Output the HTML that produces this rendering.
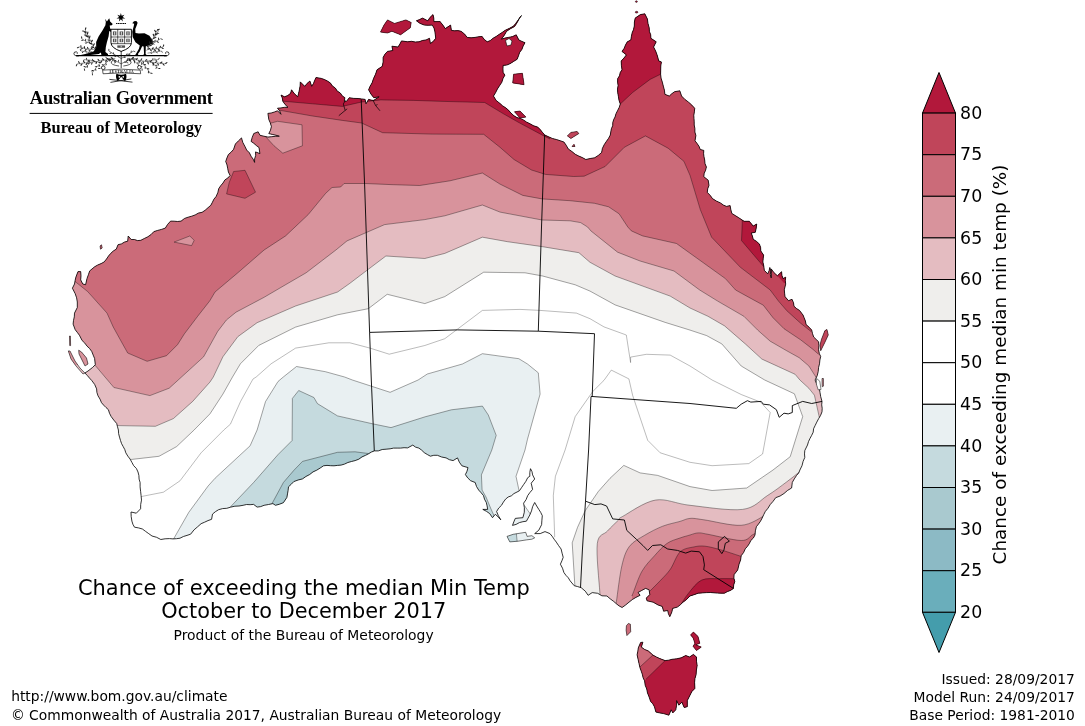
<!DOCTYPE html>
<html><head><meta charset="utf-8"><title>Chance of exceeding the median Min Temp</title>
<style>
html,body{margin:0;padding:0;background:#fff;}
body{width:1085px;height:726px;position:relative;overflow:hidden;font-family:"DejaVu Sans",sans-serif;color:#000;}
.t{position:absolute;white-space:nowrap;line-height:1;}
.serif{font-family:"Liberation Serif",serif;font-weight:bold;}
</style></head><body>
<svg width="1085" height="726" viewBox="0 0 1085 726" style="position:absolute;left:0;top:0">
<defs><clipPath id="land">
<path d="M78.0,271.6 L80.7,271.6 L81.0,275.8 L80.7,279.9 L82.8,284.0 L85.6,284.7 L87.0,278.5 L88.4,274.7 L89.7,270.9 L94.6,266.8 L97.7,265.0 L101.1,263.6 L104.2,261.9 L106.5,259.0 L108.5,256.0 L110.8,253.3 L113.3,251.0 L116.3,249.1 L118.0,244.7 L121.4,243.9 L124.4,242.1 L127.7,241.2 L128.2,236.0 L131.2,239.5 L134.4,239.5 L137.6,240.6 L140.8,240.3 L144.3,238.5 L147.8,236.8 L151.1,234.5 L153.9,231.6 L157.7,230.4 L161.5,229.4 L165.3,228.1 L167.6,224.4 L170.6,221.1 L174.1,221.2 L177.6,221.5 L181.1,221.1 L184.6,218.4 L188.1,217.2 L191.7,216.2 L195.2,214.9 L198.4,213.1 L202.1,212.3 L205.2,210.2 L208.0,207.7 L210.8,205.3 L212.4,202.3 L213.9,199.2 L216.1,196.5 L217.8,192.7 L218.7,188.7 L220.7,185.7 L223.0,183.0 L224.9,179.9 L227.8,178.0 L230.1,175.5 L228.4,172.0 L227.7,168.4 L227.0,164.9 L225.7,161.5 L226.9,158.0 L228.4,154.5 L231.2,152.1 L233.6,149.3 L235.4,144.0 L238.4,140.9 L241.5,137.9 L242.8,142.4 L245.0,146.6 L246.7,150.1 L249.4,152.8 L251.1,156.3 L253.2,159.2 L254.6,162.4 L254.6,158.9 L255.7,155.4 L255.5,151.9 L259.9,153.6 L259.0,147.5 L256.3,145.5 L253.8,143.3 L251.1,141.4 L252.2,137.4 L253.8,133.5 L258.1,131.8 L260.0,135.3 L263.9,136.2 L267.9,137.1 L271.7,136.7 L275.5,136.3 L279.3,136.2 L275.8,135.2 L272.3,134.4 L268.8,133.6 L270.5,130.2 L271.4,126.5 L270.3,122.9 L268.8,119.5 L267.9,113.4 L271.2,113.0 L274.4,112.0 L277.5,110.8 L281.0,114.3 L279.7,111.0 L277.5,108.2 L281.0,107.9 L284.5,107.3 L288.0,107.3 L285.1,104.5 L282.8,101.2 L282.3,98.0 L281.0,95.0 L284.5,96.8 L287.8,95.5 L290.6,93.3 L291.5,89.8 L294.3,93.6 L297.7,96.8 L298.6,93.3 L299.4,89.8 L300.1,85.9 L300.3,81.9 L304.7,86.3 L307.1,83.4 L309.9,81.0 L311.7,86.3 L313.5,83.5 L314.6,80.5 L316.0,77.5 L321.3,78.4 L324.4,79.5 L327.4,81.0 L330.4,83.0 L332.4,86.0 L335.3,88.0 L337.2,91.0 L340.3,93.0 L342.3,95.9 L344.9,97.7 L344.3,101.2 L346.6,101.2 L349.3,97.7 L353.7,98.4 L358.1,98.5 L361.6,98.9 L365.1,99.4 L366.0,103.8 L368.6,99.4 L372.1,100.3 L373.8,100.3 L379.1,96.8 L373.8,97.7 L370.9,94.0 L368.6,89.8 L370.1,86.2 L372.1,82.8 L373.5,78.6 L375.5,74.3 L377.0,69.8 L382.3,66.3 L383.1,61.9 L383.1,57.5 L384.9,54.2 L387.5,51.4 L392.8,50.5 L391.9,46.2 L398.0,47.0 L399.9,44.0 L401.5,40.9 L407.7,41.8 L411.5,41.3 L415.2,42.0 L419.0,41.8 L422.4,40.5 L426.1,39.9 L429.5,38.3 L430.4,43.5 L433.4,41.3 L435.7,38.3 L435.3,34.8 L434.8,31.3 L434.0,28.0 L432.2,25.1 L428.2,25.3 L424.3,25.1 L420.1,23.4 L416.4,20.8 L419.5,19.6 L422.5,18.1 L427.8,20.8 L430.0,17.4 L433.0,14.6 L433.8,18.1 L433.9,21.6 L440.1,21.6 L442.8,25.0 L445.3,28.6 L450.6,25.1 L451.4,30.4 L454.6,30.8 L457.9,30.6 L461.1,31.3 L464.5,34.0 L467.2,37.4 L471.1,37.8 L475.1,37.4 L478.6,36.7 L482.1,36.5 L484.3,39.5 L487.3,41.8 L490.5,40.4 L493.1,38.2 L496.1,36.5 L499.1,34.4 L502.2,32.4 L505.2,30.3 L509.5,28.3 L513.6,26.0 L515.7,23.4 L517.6,20.8 L519.6,18.2 L521.5,15.5 L519.4,18.0 L518.0,21.0 L516.4,23.8 L514.6,26.5 L510.5,28.7 L506.6,31.3 L504.2,35.4 L501.4,39.2 L504.8,38.1 L508.4,37.4 L512.5,36.6 L516.2,34.8 L518.9,40.0 L521.9,41.4 L525.0,42.7 L523.2,45.9 L521.9,49.4 L519.7,52.3 L518.5,55.8 L517.1,59.3 L513.6,61.4 L510.1,63.7 L506.7,65.1 L503.1,65.4 L503.0,68.9 L503.1,72.4 L504.9,75.1 L503.0,78.5 L501.8,82.3 L499.6,85.6 L497.4,89.0 L495.6,92.6 L493.5,96.1 L496.1,100.4 L500.0,103.5 L502.7,105.9 L505.7,107.8 L508.4,110.1 L511.0,113.1 L514.0,115.8 L517.0,117.6 L520.4,118.4 L523.4,119.9 L526.3,121.9 L530.0,123.8 L533.7,125.8 L537.7,127.1 L540.2,129.6 L542.4,132.3 L544.7,135.0 L548.6,136.8 L552.5,138.5 L556.4,139.5 L560.1,140.7 L563.9,142.0 L566.3,145.4 L568.3,149.0 L571.9,151.5 L575.3,154.3 L578.8,156.1 L582.4,157.6 L585.8,159.5 L590.2,158.5 L594.6,157.8 L598.3,155.4 L601.6,152.5 L602.4,148.4 L604.2,144.7 L606.3,141.5 L608.5,138.4 L610.3,135.0 L610.8,131.8 L611.4,128.7 L612.7,125.7 L612.8,122.4 L613.8,119.3 L615.0,117.1 L616.0,113.7 L617.6,110.5 L619.2,107.4 L620.3,104.0 L619.0,100.3 L618.4,96.4 L617.7,92.6 L617.5,89.1 L618.1,85.6 L617.6,82.1 L617.7,78.6 L619.5,75.8 L620.2,72.6 L622.0,69.8 L621.4,65.4 L621.2,61.0 L623.9,58.1 L626.4,54.9 L622.0,51.4 L624.1,48.4 L625.5,45.0 L627.3,41.8 L630.8,40.0 L631.4,36.4 L632.1,32.9 L633.5,29.5 L634.3,26.0 L634.4,22.0 L635.2,18.1 L640.4,14.6 L644.8,13.8 L647.4,19.0 L648.0,23.5 L649.2,27.8 L649.4,31.4 L650.7,34.7 L650.9,38.3 L656.2,41.8 L653.6,47.0 L655.6,50.9 L657.1,54.9 L658.8,61.0 L661.4,61.9 L660.8,66.0 L660.7,70.1 L660.6,74.2 L661.1,78.2 L662.3,82.1 L663.3,86.1 L664.4,90.1 L664.9,94.3 L669.3,96.1 L671.8,93.7 L674.6,91.7 L679.8,90.8 L681.6,96.1 L684.9,99.4 L688.6,102.2 L691.8,105.1 L694.7,108.3 L694.4,111.8 L693.8,115.3 L694.0,118.5 L694.2,121.8 L694.2,125.0 L694.9,128.5 L694.9,132.1 L695.9,135.5 L695.0,140.8 L697.1,143.5 L699.0,146.3 L700.3,149.5 L703.8,150.4 L703.6,153.6 L704.0,156.8 L704.7,160.0 L705.0,163.6 L706.4,167.0 L705.6,170.3 L704.2,173.3 L703.8,176.7 L708.2,180.2 L709.0,185.4 L707.7,188.8 L707.3,192.4 L710.1,195.3 L712.5,198.6 L716.3,201.0 L720.4,202.9 L723.3,205.0 L726.5,206.4 L730.1,205.6 L730.8,209.5 L731.8,213.4 L735.3,215.6 L738.8,217.8 L744.1,221.3 L749.3,221.3 L753.2,226.1 L756.7,224.0 L756.2,228.2 L755.3,232.3 L751.2,233.0 L752.4,236.0 L753.2,239.2 L756.5,241.4 L759.4,244.0 L760.6,247.4 L760.8,250.9 L763.6,255.1 L763.2,258.5 L762.9,262.0 L763.8,266.1 L764.3,270.3 L767.7,273.8 L769.1,270.8 L769.8,267.5 L770.8,270.9 L770.3,274.5 L771.2,277.9 L771.4,273.4 L771.2,268.9 L774.0,272.7 L777.4,275.8 L781.6,271.7 L781.9,275.2 L783.0,278.6 L785.7,277.2 L785.3,280.6 L785.7,284.1 L784.3,289.7 L784.6,293.2 L785.0,296.6 L788.5,300.7 L792.0,299.3 L793.5,302.7 L794.0,306.3 L796.6,308.6 L799.5,310.4 L803.0,315.0 L804.1,317.7 L805.4,321.0 L806.1,324.6 L809.1,327.2 L811.7,330.1 L812.5,333.6 L813.7,337.0 L816.1,339.4 L818.6,341.8 L818.9,345.7 L818.6,349.7 L819.3,353.6 L820.7,356.4 L819.9,360.0 L819.5,363.8 L818.6,367.4 L818.2,371.6 L817.2,375.7 L815.1,380.0 L816.8,384.3 L819.3,388.3 L820.0,392.4 L820.7,396.6 L822.0,401.4 L821.7,404.9 L822.2,408.3 L822.0,411.8 L820.6,415.4 L818.6,418.7 L816.8,422.1 L815.1,425.6 L813.6,428.7 L813.2,432.2 L811.7,435.3 L810.0,438.4 L808.5,441.6 L807.5,445.0 L804.8,450.5 L804.5,453.9 L804.8,457.4 L803.1,461.4 L802.0,465.7 L799.9,470.0 L798.7,473.0 L796.5,475.5 L794.3,478.9 L792.3,482.4 L791.6,488.0 L787.6,490.4 L784.0,493.5 L780.1,496.0 L775.7,497.7 L773.1,501.3 L770.2,504.6 L768.0,508.2 L765.3,511.5 L763.7,514.7 L762.2,518.0 L760.5,521.2 L758.5,524.0 L756.4,526.7 L755.4,530.8 L755.0,535.0 L753.3,538.1 L750.8,540.5 L749.4,543.5 L747.5,546.3 L745.3,548.8 L743.6,552.5 L741.2,555.7 L740.6,560.0 L739.1,564.0 L737.7,570.0 L734.1,574.6 L733.9,578.1 L734.8,581.5 L733.7,584.9 L733.4,588.4 L730.6,590.4 L727.4,591.6 L724.4,593.2 L720.9,593.2 L717.5,593.1 L714.0,592.8 L710.6,592.5 L706.5,592.6 L702.3,592.9 L698.2,593.2 L694.1,594.7 L689.9,596.0 L686.7,599.4 L683.0,602.2 L680.3,604.8 L677.4,607.1 L672.6,608.4 L671.9,611.9 L669.8,616.7 L668.4,613.7 L667.7,610.5 L663.6,611.2 L662.2,606.4 L658.1,605.0 L653.2,602.2 L647.0,600.8 L646.3,598.1 L649.8,594.6 L649.1,589.8 L645.6,588.4 L641.8,590.4 L638.0,592.5 L640.1,595.3 L635.9,597.4 L632.3,599.6 L629.0,602.2 L625.6,605.0 L622.1,607.5 L619.1,605.9 L616.4,603.8 L613.8,601.5 L610.3,598.9 L606.9,596.0 L601.9,595.8 L597.7,593.3 L592.2,592.6 L588.1,595.3 L585.3,591.2 L581.2,587.7 L577.7,586.6 L574.2,585.7 L570.1,580.8 L568.3,577.8 L565.9,575.3 L563.9,572.5 L562.5,568.2 L560.4,564.2 L561.9,560.8 L563.2,557.3 L562.1,553.2 L561.1,549.0 L558.6,545.6 L556.3,542.1 L554.2,539.3 L552.2,536.3 L549.9,533.6 L545.0,531.6 L540.2,533.6 L534.7,533.6 L538.8,530.2 L541.6,524.7 L541.9,520.2 L542.3,515.7 L540.7,512.4 L538.8,509.4 L536.7,506.0 L534.7,502.5 L532.6,506.7 L531.5,510.9 L529.8,515.0 L528.1,518.1 L526.4,521.2 L522.9,521.7 L519.4,522.6 L516.1,524.4 L512.5,525.4 L513.8,521.9 L515.3,518.4 L519.1,518.0 L522.9,517.7 L524.3,512.2 L524.4,507.7 L523.6,503.2 L526.1,499.6 L527.7,495.6 L530.0,492.4 L532.6,489.4 L531.2,483.2 L534.7,479.0 L532.6,474.9 L532.0,471.7 L530.5,468.7 L529.8,472.5 L529.8,476.3 L527.7,477.7 L525.9,481.3 L523.6,484.6 L521.5,487.7 L519.4,490.8 L513.9,493.6 L511.4,495.8 L508.2,497.0 L505.6,499.1 L503.4,502.1 L501.5,505.3 L498.7,508.1 L496.6,511.5 L498.4,515.8 L500.8,519.8 L498.2,516.9 L495.3,514.3 L492.5,517.7 L489.7,513.6 L486.4,511.3 L482.8,509.4 L487.7,509.4 L487.1,505.9 L486.3,502.5 L484.5,499.2 L483.5,495.6 L481.2,492.8 L478.7,490.1 L476.5,486.5 L475.2,482.5 L470.6,480.7 L467.7,477.9 L465.4,474.6 L467.0,471.2 L468.0,467.6 L461.9,465.8 L459.3,462.1 L457.5,457.9 L453.1,460.6 L449.4,459.7 L446.1,457.9 L441.6,457.0 L437.4,455.3 L433.8,455.3 L430.4,456.2 L427.3,454.5 L424.2,452.6 L421.6,450.1 L418.9,448.1 L415.5,447.1 L412.8,445.1 L407.6,447.9 L404.1,447.7 L400.6,448.1 L397.1,448.1 L393.6,448.1 L390.1,448.8 L386.1,449.2 L382.2,449.5 L378.3,450.9 L374.3,450.9 L371.3,452.1 L368.5,453.8 L365.6,455.3 L362.0,456.9 L358.8,459.2 L355.1,460.6 L351.5,461.5 L347.9,462.5 L344.5,464.1 L341.1,465.1 L337.5,465.4 L334.0,465.8 L330.5,465.7 L327.0,465.4 L323.5,465.8 L320.1,468.1 L316.7,470.2 L313.0,471.9 L309.7,474.5 L305.9,476.5 L302.5,478.9 L298.1,480.0 L293.8,481.6 L291.2,484.3 L288.5,486.8 L288.1,490.4 L287.5,493.9 L286.9,497.4 L283.4,502.7 L279.5,504.2 L275.5,505.3 L272.9,503.6 L268.5,504.5 L264.1,505.3 L260.7,506.6 L257.1,507.1 L253.6,504.4 L250.1,504.7 L246.6,504.5 L243.1,505.3 L239.0,506.0 L234.9,506.2 L230.8,507.1 L226.8,508.3 L222.6,508.6 L218.6,509.7 L215.4,511.7 L212.5,514.1 L211.6,519.3 L208.0,520.6 L204.6,522.2 L201.1,523.7 L197.6,526.8 L194.1,529.8 L190.6,534.2 L187.0,535.4 L183.4,536.5 L180.0,538.2 L176.5,538.7 L173.0,538.9 L169.5,538.6 L165.1,538.8 L160.8,539.5 L156.6,537.3 L152.0,536.0 L148.8,533.7 L145.6,531.4 L142.4,529.0 L138.5,527.9 L134.5,527.2 L132.9,524.3 L131.9,521.1 L131.2,516.6 L131.0,512.0 L136.3,513.2 L140.6,508.8 L140.7,504.4 L141.5,500.1 L141.1,495.7 L140.6,491.3 L140.1,486.9 L140.1,482.5 L139.1,479.1 L138.9,475.5 L138.0,472.0 L136.4,468.5 L133.7,465.7 L131.9,462.4 L130.1,459.1 L127.8,456.1 L125.8,452.8 L124.8,449.6 L123.2,446.6 L121.6,443.7 L120.5,440.5 L119.5,437.1 L118.6,433.6 L118.4,430.0 L117.5,426.8 L116.7,423.5 L113.8,420.1 L111.2,416.6 L109.5,413.3 L108.4,409.7 L106.0,407.5 L103.7,405.2 L101.5,402.7 L100.0,399.1 L98.0,395.8 L96.9,392.4 L96.6,388.9 L94.7,384.5 L91.8,380.6 L89.5,378.1 L87.3,375.5 L84.9,373.0 L88.0,371.0 L92.5,367.5 L95.3,364.7 L94.6,358.5 L93.2,355.1 L91.8,351.6 L89.7,348.6 L87.0,346.1 L84.8,343.1 L82.1,340.5 L79.4,335.2 L77.3,332.4 L75.2,329.7 L73.1,324.1 L73.5,320.4 L74.3,316.8 L74.5,313.1 L77.3,307.5 L77.3,302.0 L76.6,297.8 L75.2,293.7 L72.4,288.2 L74.5,284.0 L75.1,280.5 L75.9,277.1Z"/>
<path d="M638.3,647.9 L640.6,642.5 L642.9,642.2 L641.4,647.1 L644.5,649.4 L648.3,650.9 L652.9,655.1 L656.3,656.9 L659.8,658.6 L665.1,660.6 L668.6,660.2 L672.0,659.3 L676.6,658.8 L681.2,657.8 L685.7,655.5 L689.6,657.0 L693.4,654.4 L696.5,657.0 L696.5,661.3 L697.2,665.5 L696.4,670.0 L696.1,674.6 L695.0,678.4 L694.6,682.3 L694.9,688.4 L691.9,691.5 L689.6,696.0 L687.3,700.6 L687.3,706.7 L684.2,707.5 L681.9,702.2 L678.9,705.2 L676.6,700.6 L676.6,705.2 L675.8,709.8 L672.8,712.9 L671.2,709.8 L668.9,715.2 L663.6,713.6 L659.7,712.9 L655.9,712.1 L654.4,706.7 L652.8,703.8 L650.6,701.4 L649.2,697.2 L647.5,693.0 L646.7,689.0 L645.2,685.3 L644.5,680.7 L643.1,677.8 L642.4,674.6 L641.4,671.6 L640.0,667.8 L639.1,663.9 L638.1,659.3 L637.1,654.8 L637.8,651.4Z"/>
<path d="M380.5,32.1 L384.0,25.1 L387.5,19.9 L394.5,23.4 L405.9,19.9 L411.2,22.5 L410.3,27.8 L400.6,34.8 L391.9,31.3 L387.5,33.0Z"/>
<path d="M513.6,74.2 L522.4,73.3 L524.1,84.7 L512.7,82.9Z"/>
<path d="M514.5,111.8 L520.0,111.0 L525.9,117.1 L520.0,118.0Z"/>
<path d="M567.4,135.9 L570.9,132.4 L577.1,131.5 L578.8,133.6 L570.9,138.5Z"/>
<path d="M572.0,146.5 L574.0,144.3 L575.0,146.5Z"/>
<path d="M824.8,330.8 L826.9,329.4 L828.3,334.9 L824.8,342.5 L820.7,350.8 L820.0,345.3 L821.3,339.8Z"/>
<path d="M822.0,378.5 L823.4,378.5 L823.4,386.2 L822.2,386.8Z"/>
<path d="M626.4,625.7 L628.4,623.4 L630.4,624.2 L630.7,631.8 L626.9,635.6 L626.1,630.3Z"/>
<path d="M690.6,634.9 L693.4,632.1 L698.0,636.4 L699.8,643.3 L695.7,644.8 L701.3,647.1 L696.5,650.5 L693.1,646.3 L694.9,643.3 L693.1,637.9Z"/>
<path d="M507.0,536.4 L513.2,534.3 L525.7,532.3 L527.1,536.4 L531.9,535.7 L534.7,537.8 L531.9,539.2 L526.4,539.9 L518.1,541.2 L509.8,541.9Z"/>
<path d="M78.7,350.2 L81.5,352.0 L86.5,358.0 L88.0,364.0 L85.0,366.0 L82.0,360.0 L79.0,354.0Z"/>
<path d="M68.3,350.9 L70.0,351.0 L75.0,361.0 L80.0,368.0 L84.9,373.0 L83.0,374.0 L76.0,366.0 L71.0,359.0Z"/>
<path d="M69.5,336.0 L70.4,336.0 L70.6,345.6 L69.7,345.6Z"/>
<path d="M100.0,246.0 L101.5,244.8 L102.2,248.0 L100.5,249.2Z"/>
</clipPath></defs>
<g clip-path="url(#land)" stroke="none">
<rect x="0" y="0" width="1085" height="726" fill="#fff" stroke="none"/>
<path d="M129.0,459.4 L131.9,459.4 L159.0,456.3 L176.6,446.6 L194.1,430.0 L210.0,413.8 L222.9,394.1 L232.5,377.0 L240.4,363.8 L258.8,345.4 L295.6,327.1 L337.6,314.8 L368.3,308.7 L387.2,294.3 L424.8,303.6 L444.8,296.6 L483.7,272.2 L525.0,272.8 L542.6,276.0 L575.2,284.8 L590.0,291.1 L615.1,304.9 L665.2,322.4 L690.0,330.1 L706.6,335.6 L721.8,343.9 L741.2,366.0 L764.7,380.0 L794.4,393.8 L802.7,416.6 L790.2,456.7 L773.0,470.0 L746.7,488.0 L712.1,490.5 L690.0,486.6 L657.7,475.4 L640.1,472.9 L623.8,465.4 L610.0,478.3 L598.3,491.5 L585.1,510.8 L577.5,527.4 L572.2,542.8 L574.9,586.5 L575.0,800.0 L1000.0,800.0 L1000.0,-50.0 L-50.0,-50.0 L-50.0,459.4Z" fill="#efeeec"/>
<path d="M116.0,425.6 L118.1,425.6 L155.4,426.3 L173.4,418.6 L192.7,401.4 L210.0,382.0 L213.3,377.0 L222.9,356.8 L237.8,336.7 L257.1,322.7 L295.6,306.0 L337.6,292.0 L349.9,283.3 L368.3,269.3 L385.9,256.0 L424.8,258.5 L444.8,253.4 L482.4,237.2 L507.5,241.7 L542.6,246.7 L578.9,252.7 L590.0,262.3 L615.1,276.0 L670.2,296.1 L690.0,308.0 L708.0,316.3 L724.6,325.9 L745.3,343.9 L761.9,359.1 L778.5,366.7 L795.1,374.3 L799.9,380.0 L808.9,388.3 L814.4,395.2 L817.2,407.7 L819.3,417.3 L822.0,418.0 L1000.0,418.0 L1000.0,-50.0 L-50.0,-50.0 L-50.0,425.6Z" fill="#e4bcc1"/>
<path d="M600.0,596.0 C600.0,595.3 600.2,600.6 599.8,591.9 C599.3,583.1 596.0,553.6 597.3,543.5 C598.6,533.4 603.9,535.0 607.4,531.1 C610.9,527.2 616.0,522.5 618.5,520.0 C621.0,517.5 616.6,519.7 622.7,516.4 C628.8,513.1 644.1,502.0 655.3,500.1 C666.5,498.2 675.5,503.8 690.0,505.3 C704.5,506.9 729.6,511.0 742.5,509.4 C755.4,507.8 760.0,500.2 767.4,495.6 C774.8,491.0 781.5,485.7 786.8,481.8 C792.1,477.9 796.5,474.2 799.2,472.1 C801.9,470.0 802.4,469.5 803.0,469.0 L1000.0,469.0 L1000.0,800.0 L600.0,800.0Z" fill="#e4bcc1"/>
<path d="M93.0,365.0 L94.6,364.7 L113.9,387.5 L149.9,395.6 L169.2,388.2 L192.7,366.8 L203.6,356.8 L217.7,331.4 L226.4,320.0 L236.0,312.2 L264.1,297.3 L285.1,285.0 L306.1,272.8 L335.9,250.0 L347.0,240.9 L384.6,224.6 L424.8,219.6 L444.8,215.8 L482.4,205.0 L500.0,212.1 L542.0,220.0 L570.1,220.8 L580.6,222.6 L587.6,227.0 L591.0,231.0 L617.6,252.2 L640.1,261.0 L674.0,271.0 L699.7,290.0 L717.7,301.1 L743.9,316.3 L757.7,330.1 L770.2,341.2 L786.8,350.8 L799.2,357.7 L808.9,366.0 L816.5,378.0 L819.0,386.0 L1000.0,386.0 L1000.0,-50.0 L-50.0,-50.0 L-50.0,365.0Z" fill="#d8939c"/>
<path d="M616.0,604.0 C616.1,603.6 615.4,608.0 616.4,601.6 C617.4,595.2 619.7,574.8 621.9,565.6 C624.1,556.4 625.7,551.4 629.5,546.3 C633.3,541.2 639.3,538.6 644.8,535.2 C650.3,531.9 656.8,528.5 662.7,526.2 C668.6,523.9 675.5,522.7 680.0,521.4 C684.5,520.1 686.0,518.7 690.0,518.4 C694.0,518.1 695.3,518.6 703.8,519.8 C712.3,520.9 731.1,526.0 741.2,525.3 C751.4,524.6 760.2,517.5 764.7,515.6 C769.2,513.7 767.5,514.3 768.0,514.0 L1000.0,514.0 L1000.0,800.0 L616.0,800.0Z" fill="#d8939c"/>
<path d="M72.0,279.0 L76.6,282.7 L87.7,291.6 L107.0,313.1 L113.2,326.9 L120.8,340.7 L127.7,353.0 L147.1,361.3 L166.5,355.7 L177.5,344.7 L184.4,333.8 L197.5,316.5 L209.8,300.8 L215.0,292.0 L237.8,272.8 L264.1,250.0 L285.6,235.9 L308.2,214.6 L325.7,193.3 L332.0,187.5 L340.6,187.0 L344.1,183.5 L365.1,183.5 L393.1,184.7 L419.7,185.5 L450.0,180.8 L482.4,173.0 L500.0,184.1 L522.8,195.4 L542.0,198.9 L570.1,200.7 L594.6,203.3 L608.6,206.8 L619.1,213.8 L627.8,227.0 L631.4,230.9 L642.6,235.9 L676.5,243.5 L725.4,278.6 L735.6,290.0 L748.1,296.9 L763.3,305.2 L773.0,317.7 L784.0,328.7 L800.6,339.8 L813.0,349.4 L818.6,354.3 L1000.0,355.0 L1000.0,-50.0 L-50.0,-50.0 L-50.0,279.0Z" fill="#cb6b79"/>
<path d="M632.0,596.0 C632.2,595.5 631.3,597.4 633.0,593.3 C634.7,589.2 638.4,577.4 642.0,571.2 C645.6,565.0 650.2,560.5 654.4,555.9 C658.5,551.3 662.6,546.5 666.9,543.5 C671.2,540.5 676.1,539.4 680.0,538.0 C683.9,536.6 687.0,535.9 690.0,535.0 C693.0,534.1 695.3,533.0 698.3,532.9 C701.3,532.8 700.9,533.0 708.0,534.3 C715.1,535.6 733.8,540.4 741.2,540.5 C748.6,540.6 749.6,536.3 752.2,535.0 C754.8,533.7 756.2,532.9 757.0,532.5 L1000.0,532.5 L1000.0,800.0 L632.0,800.0Z" fill="#cb6b79"/>
<path d="M266.0,137.1 L266.0,126.0 L271.4,123.0 L277.5,121.3 L302.0,124.8 L302.4,145.8 L282.8,153.2 L274.0,145.8Z" fill="#d8939c"/>
<path d="M174.1,242.1 L189.8,236.0 L194.2,240.3 L191.6,245.6Z" fill="#d8939c"/>
<path d="M277.5,110.0 L282.8,110.8 L312.5,116.0 L342.3,120.4 L361.6,123.0 L382.6,132.7 L432.3,134.1 L483.7,134.3 L500.0,147.3 L514.0,159.5 L531.5,170.0 L545.5,174.4 L573.6,176.5 L584.1,176.2 L605.1,166.5 L624.3,147.3 L645.4,135.9 L668.1,148.2 L683.9,161.3 L690.0,175.3 L700.3,209.6 L711.6,237.2 L740.4,267.3 L770.2,290.0 L778.5,301.1 L786.8,310.7 L800.6,323.2 L811.0,331.5 L1000.0,340.0 L1000.0,-50.0 L-50.0,-50.0 L-50.0,110.0Z" fill="#c0455a"/>
<path d="M645.0,596.0 C645.8,595.2 647.2,593.9 649.8,591.2 C652.4,588.6 657.3,583.8 660.8,580.1 C664.2,576.4 667.3,573.7 670.5,569.0 C673.7,564.3 676.3,555.5 680.2,551.8 C684.1,548.1 689.9,547.8 694.0,546.9 C698.1,546.0 700.7,545.7 705.1,546.2 C709.5,546.7 714.5,548.1 720.3,549.7 C726.0,551.3 735.6,554.6 739.6,555.9 C743.6,557.2 743.3,557.1 744.0,557.3 L1000.0,557.0 L1000.0,800.0 L645.0,800.0Z" fill="#c0455a"/>
<path d="M229.2,182.5 L233.6,171.5 L245.0,170.3 L255.5,192.2 L245.0,198.3 L226.6,193.9Z" fill="#c0455a"/>
<path d="M282.8,101.2 L312.5,103.8 L342.3,106.4 L361.6,102.0 L380.8,99.9 L413.8,100.4 L440.1,101.3 L484.7,102.5 L503.1,113.6 L519.3,122.8 L543.8,135.9 L550.0,139.0 L560.0,120.0 L560.0,-50.0 L200.0,-50.0 L200.0,100.0Z" fill="#b2183b"/>
<path d="M617.0,107.0 L620.3,104.0 L632.5,92.6 L650.1,79.4 L660.6,74.2 L664.0,72.5 L700.0,74.0 L700.0,-50.0 L600.0,-50.0 L600.0,105.0Z" fill="#b2183b"/>
<path d="M742.2,215.0 L742.2,224.0 L741.5,240.6 L761.5,264.1 L764.5,267.5 L769.0,267.0 L771.2,269.0 L784.0,283.0 L800.0,283.0 L800.0,215.0Z" fill="#b2183b"/>
<path d="M679.0,608.0 C679.2,607.6 678.6,608.2 680.2,605.7 C681.8,603.2 684.9,597.5 688.5,593.2 C692.1,588.9 696.5,582.5 701.6,580.1 C706.7,577.7 713.6,578.9 718.9,578.7 C724.2,578.5 730.2,578.7 733.4,578.7 C736.6,578.7 737.2,578.7 738.0,578.7 L800.0,579.0 L800.0,800.0 L679.0,800.0Z" fill="#b2183b"/>
<path d="M173.0,540.0 L174.8,536.8 L188.8,512.3 L208.1,486.0 L215.1,478.2 L250.1,445.8 L257.1,430.0 L265.5,401.6 L278.0,381.5 L283.3,377.0 L296.5,366.5 L325.4,371.7 L344.6,377.0 L352.4,380.0 L390.1,392.3 L418.1,380.0 L427.3,374.0 L462.4,364.0 L482.4,353.7 L518.8,358.7 L527.5,364.0 L538.3,372.8 L540.1,394.1 L527.5,439.2 L525.0,450.0 L516.0,476.3 L518.8,489.4 L519.5,492.0 L518.0,700.0 L174.0,700.0Z" fill="#e9f0f2"/>
<path d="M230.8,508.0 L230.8,506.5 L253.6,482.5 L278.1,454.5 L292.1,440.5 L292.4,398.4 L298.7,390.5 L313.9,397.5 L317.4,403.6 L337.5,415.9 L372.6,423.8 L391.0,427.6 L425.1,416.8 L451.4,409.8 L482.4,406.1 L488.3,415.0 L496.2,435.4 L491.8,450.0 L481.4,474.9 L482.1,490.1 L486.0,497.0 L491.0,509.0 L496.0,520.0 L496.0,700.0 L230.0,700.0Z" fill="#c5dade"/>
<path d="M271.5,506.0 L272.0,503.6 L283.4,482.5 L293.9,470.3 L302.5,461.4 L337.5,452.3 L355.1,451.8 L369.1,453.6 L374.3,450.9 L373.0,700.0 L271.0,700.0Z" fill="#a9c9cf"/>
<path d="M638.3,647.9 L640.6,642.5 L642.9,642.2 L641.4,647.1 L644.5,649.4 L648.3,650.9 L652.9,655.1 L656.3,656.9 L659.8,658.6 L665.1,660.6 L668.6,660.2 L672.0,659.3 L676.6,658.8 L681.2,657.8 L685.7,655.5 L689.6,657.0 L693.4,654.4 L696.5,657.0 L696.5,661.3 L697.2,665.5 L696.4,670.0 L696.1,674.6 L695.0,678.4 L694.6,682.3 L694.9,688.4 L691.9,691.5 L689.6,696.0 L687.3,700.6 L687.3,706.7 L684.2,707.5 L681.9,702.2 L678.9,705.2 L676.6,700.6 L676.6,705.2 L675.8,709.8 L672.8,712.9 L671.2,709.8 L668.9,715.2 L663.6,713.6 L659.7,712.9 L655.9,712.1 L654.4,706.7 L652.8,703.8 L650.6,701.4 L649.2,697.2 L647.5,693.0 L646.7,689.0 L645.2,685.3 L644.5,680.7 L643.1,677.8 L642.4,674.6 L641.4,671.6 L640.0,667.8 L639.1,663.9 L638.1,659.3 L637.1,654.8 L637.8,651.4Z" fill="#b2183b"/>
<path d="M630.0,640.0 L665.1,660.6 L646.0,679.2 L630.0,690.0Z" fill="#c0455a"/>
<path d="M630.0,640.0 L652.9,655.1 L639.9,667.0 L630.0,672.0Z" fill="#cb6b79"/>
<path d="M626.4,625.7 L628.4,623.4 L630.4,624.2 L630.7,631.8 L626.9,635.6 L626.1,630.3Z" fill="#cb6b79"/>
<path d="M824.8,330.8 L826.9,329.4 L828.3,334.9 L824.8,342.5 L820.7,350.8 L820.0,345.3 L821.3,339.8Z" fill="#c0455a"/>
<path d="M690.6,634.9 L693.4,632.1 L698.0,636.4 L699.8,643.3 L695.7,644.8 L701.3,647.1 L696.5,650.5 L693.1,646.3 L694.9,643.3 L693.1,637.9Z" fill="#b2183b"/>
<path d="M507.0,536.4 L513.2,534.3 L525.7,532.3 L527.1,536.4 L531.9,535.7 L534.7,537.8 L531.9,539.2 L526.4,539.9 L518.1,541.2 L509.8,541.9Z" fill="#e9f0f2"/>
<path d="M500.0,530.0 L516.0,530.0 L517.5,545.0 L500.0,545.0Z" fill="#c5dade"/>
<path d="M508.0,503.0 L524.3,505.3 L530.5,514.3 L529.0,524.0 L508.0,528.0Z" fill="#e9f0f2"/>
<g fill="none" stroke="#000" stroke-opacity="0.6" stroke-width="0.6" stroke-linejoin="round">
<path d="M129.0,459.4 L131.9,459.4 L159.0,456.3 L176.6,446.6 L194.1,430.0 L210.0,413.8 L222.9,394.1 L232.5,377.0 L240.4,363.8 L258.8,345.4 L295.6,327.1 L337.6,314.8 L368.3,308.7 L387.2,294.3 L424.8,303.6 L444.8,296.6 L483.7,272.2 L525.0,272.8 L542.6,276.0 L575.2,284.8 L590.0,291.1 L615.1,304.9 L665.2,322.4 L690.0,330.1 L706.6,335.6 L721.8,343.9 L741.2,366.0 L764.7,380.0 L794.4,393.8 L802.7,416.6 L790.2,456.7 L773.0,470.0 L746.7,488.0 L712.1,490.5 L690.0,486.6 L657.7,475.4 L640.1,472.9 L623.8,465.4 L610.0,478.3 L598.3,491.5 L585.1,510.8 L577.5,527.4 L572.2,542.8 L574.9,586.5"/>
<path d="M116.0,425.6 L118.1,425.6 L155.4,426.3 L173.4,418.6 L192.7,401.4 L210.0,382.0 L213.3,377.0 L222.9,356.8 L237.8,336.7 L257.1,322.7 L295.6,306.0 L337.6,292.0 L349.9,283.3 L368.3,269.3 L385.9,256.0 L424.8,258.5 L444.8,253.4 L482.4,237.2 L507.5,241.7 L542.6,246.7 L578.9,252.7 L590.0,262.3 L615.1,276.0 L670.2,296.1 L690.0,308.0 L708.0,316.3 L724.6,325.9 L745.3,343.9 L761.9,359.1 L778.5,366.7 L795.1,374.3 L799.9,380.0 L808.9,388.3 L814.4,395.2 L817.2,407.7 L819.3,417.3 L822.0,418.0"/>
<path d="M600.0,596.0 C600.0,595.3 600.2,600.6 599.8,591.9 C599.3,583.1 596.0,553.6 597.3,543.5 C598.6,533.4 603.9,535.0 607.4,531.1 C610.9,527.2 616.0,522.5 618.5,520.0 C621.0,517.5 616.6,519.7 622.7,516.4 C628.8,513.1 644.1,502.0 655.3,500.1 C666.5,498.2 675.5,503.8 690.0,505.3 C704.5,506.9 729.6,511.0 742.5,509.4 C755.4,507.8 760.0,500.2 767.4,495.6 C774.8,491.0 781.5,485.7 786.8,481.8 C792.1,477.9 796.5,474.2 799.2,472.1 C801.9,470.0 802.4,469.5 803.0,469.0"/>
<path d="M93.0,365.0 L94.6,364.7 L113.9,387.5 L149.9,395.6 L169.2,388.2 L192.7,366.8 L203.6,356.8 L217.7,331.4 L226.4,320.0 L236.0,312.2 L264.1,297.3 L285.1,285.0 L306.1,272.8 L335.9,250.0 L347.0,240.9 L384.6,224.6 L424.8,219.6 L444.8,215.8 L482.4,205.0 L500.0,212.1 L542.0,220.0 L570.1,220.8 L580.6,222.6 L587.6,227.0 L591.0,231.0 L617.6,252.2 L640.1,261.0 L674.0,271.0 L699.7,290.0 L717.7,301.1 L743.9,316.3 L757.7,330.1 L770.2,341.2 L786.8,350.8 L799.2,357.7 L808.9,366.0 L816.5,378.0 L819.0,386.0"/>
<path d="M616.0,604.0 C616.1,603.6 615.4,608.0 616.4,601.6 C617.4,595.2 619.7,574.8 621.9,565.6 C624.1,556.4 625.7,551.4 629.5,546.3 C633.3,541.2 639.3,538.6 644.8,535.2 C650.3,531.9 656.8,528.5 662.7,526.2 C668.6,523.9 675.5,522.7 680.0,521.4 C684.5,520.1 686.0,518.7 690.0,518.4 C694.0,518.1 695.3,518.6 703.8,519.8 C712.3,520.9 731.1,526.0 741.2,525.3 C751.4,524.6 760.2,517.5 764.7,515.6 C769.2,513.7 767.5,514.3 768.0,514.0"/>
<path d="M72.0,279.0 L76.6,282.7 L87.7,291.6 L107.0,313.1 L113.2,326.9 L120.8,340.7 L127.7,353.0 L147.1,361.3 L166.5,355.7 L177.5,344.7 L184.4,333.8 L197.5,316.5 L209.8,300.8 L215.0,292.0 L237.8,272.8 L264.1,250.0 L285.6,235.9 L308.2,214.6 L325.7,193.3 L332.0,187.5 L340.6,187.0 L344.1,183.5 L365.1,183.5 L393.1,184.7 L419.7,185.5 L450.0,180.8 L482.4,173.0 L500.0,184.1 L522.8,195.4 L542.0,198.9 L570.1,200.7 L594.6,203.3 L608.6,206.8 L619.1,213.8 L627.8,227.0 L631.4,230.9 L642.6,235.9 L676.5,243.5 L725.4,278.6 L735.6,290.0 L748.1,296.9 L763.3,305.2 L773.0,317.7 L784.0,328.7 L800.6,339.8 L813.0,349.4 L818.6,354.3"/>
<path d="M632.0,596.0 C632.2,595.5 631.3,597.4 633.0,593.3 C634.7,589.2 638.4,577.4 642.0,571.2 C645.6,565.0 650.2,560.5 654.4,555.9 C658.5,551.3 662.6,546.5 666.9,543.5 C671.2,540.5 676.1,539.4 680.0,538.0 C683.9,536.6 687.0,535.9 690.0,535.0 C693.0,534.1 695.3,533.0 698.3,532.9 C701.3,532.8 700.9,533.0 708.0,534.3 C715.1,535.6 733.8,540.4 741.2,540.5 C748.6,540.6 749.6,536.3 752.2,535.0 C754.8,533.7 756.2,532.9 757.0,532.5"/>
<path d="M266.0,137.1 L266.0,126.0 L271.4,123.0 L277.5,121.3 L302.0,124.8 L302.4,145.8 L282.8,153.2 L274.0,145.8Z"/>
<path d="M174.1,242.1 L189.8,236.0 L194.2,240.3 L191.6,245.6Z"/>
<path d="M277.5,110.0 L282.8,110.8 L312.5,116.0 L342.3,120.4 L361.6,123.0 L382.6,132.7 L432.3,134.1 L483.7,134.3 L500.0,147.3 L514.0,159.5 L531.5,170.0 L545.5,174.4 L573.6,176.5 L584.1,176.2 L605.1,166.5 L624.3,147.3 L645.4,135.9 L668.1,148.2 L683.9,161.3 L690.0,175.3 L700.3,209.6 L711.6,237.2 L740.4,267.3 L770.2,290.0 L778.5,301.1 L786.8,310.7 L800.6,323.2 L811.0,331.5"/>
<path d="M645.0,596.0 C645.8,595.2 647.2,593.9 649.8,591.2 C652.4,588.6 657.3,583.8 660.8,580.1 C664.2,576.4 667.3,573.7 670.5,569.0 C673.7,564.3 676.3,555.5 680.2,551.8 C684.1,548.1 689.9,547.8 694.0,546.9 C698.1,546.0 700.7,545.7 705.1,546.2 C709.5,546.7 714.5,548.1 720.3,549.7 C726.0,551.3 735.6,554.6 739.6,555.9 C743.6,557.2 743.3,557.1 744.0,557.3"/>
<path d="M229.2,182.5 L233.6,171.5 L245.0,170.3 L255.5,192.2 L245.0,198.3 L226.6,193.9Z"/>
<path d="M282.8,101.2 L312.5,103.8 L342.3,106.4 L361.6,102.0 L380.8,99.9 L413.8,100.4 L440.1,101.3 L484.7,102.5 L503.1,113.6 L519.3,122.8 L543.8,135.9 L550.0,139.0"/>
<path d="M617.0,107.0 L620.3,104.0 L632.5,92.6 L650.1,79.4 L660.6,74.2 L664.0,72.5"/>
<path d="M742.2,215.0 L742.2,224.0 L741.5,240.6 L761.5,264.1 L764.5,267.5 L769.0,267.0 L771.2,269.0"/>
<path d="M679.0,608.0 C679.2,607.6 678.6,608.2 680.2,605.7 C681.8,603.2 684.9,597.5 688.5,593.2 C692.1,588.9 696.5,582.5 701.6,580.1 C706.7,577.7 713.6,578.9 718.9,578.7 C724.2,578.5 730.2,578.7 733.4,578.7 C736.6,578.7 737.2,578.7 738.0,578.7"/>
<path d="M173.0,540.0 L174.8,536.8 L188.8,512.3 L208.1,486.0 L215.1,478.2 L250.1,445.8 L257.1,430.0 L265.5,401.6 L278.0,381.5 L283.3,377.0 L296.5,366.5 L325.4,371.7 L344.6,377.0 L352.4,380.0 L390.1,392.3 L418.1,380.0 L427.3,374.0 L462.4,364.0 L482.4,353.7 L518.8,358.7 L527.5,364.0 L538.3,372.8 L540.1,394.1 L527.5,439.2 L525.0,450.0 L516.0,476.3 L518.8,489.4 L519.5,492.0"/>
<path d="M230.8,508.0 L230.8,506.5 L253.6,482.5 L278.1,454.5 L292.1,440.5 L292.4,398.4 L298.7,390.5 L313.9,397.5 L317.4,403.6 L337.5,415.9 L372.6,423.8 L391.0,427.6 L425.1,416.8 L451.4,409.8 L482.4,406.1 L488.3,415.0 L496.2,435.4 L491.8,450.0 L481.4,474.9 L482.1,490.1 L486.0,497.0 L491.0,509.0 L496.0,520.0"/>
<path d="M271.5,506.0 L272.0,503.6 L283.4,482.5 L293.9,470.3 L302.5,461.4 L337.5,452.3 L355.1,451.8 L369.1,453.6 L374.3,450.9"/>
<path d="M665.1,660.6 L646.0,679.2"/>
<path d="M652.9,655.1 L639.9,667.0"/>
<path d="M516.0,530.0 L517.5,545.0"/>
<path d="M524.3,505.3 L530.5,514.3"/>
<path d="M139.0,496.5 L141.5,496.5 L163.4,492.2 L180.0,480.8 L201.1,452.8 L223.8,430.0 L230.4,424.2 L240.5,401.6 L253.0,379.0 L256.2,377.0 L271.1,363.8 L295.6,348.1 L328.9,342.8 L349.9,342.8 L370.0,348.1 L389.2,354.2 L424.8,345.5 L444.8,338.7 L482.4,310.4 L520.0,309.4 L540.0,310.4 L576.4,313.1 L590.0,318.7 L604.0,326.9 L626.3,335.0 L630.6,362.6 L630.6,357.1 L646.4,354.3 L670.2,355.1 L690.0,366.0 L712.1,380.0 L741.2,394.5 L760.5,402.1 L770.2,412.5 L762.6,454.0 L748.8,463.6 L712.1,465.7 L690.0,462.3 L660.2,452.8 L647.7,440.3 L640.1,417.7 L632.6,395.2 L628.9,378.9 L611.3,370.1 L604.0,380.3 L592.7,391.6 L575.2,416.6 L565.1,450.0 L555.4,476.3 L553.3,495.6 L554.7,537.1" stroke-opacity="0.45"/>
</g>
</g>
<g fill="none" stroke="#000" stroke-width="0.9" stroke-linejoin="round">
<path d="M361.2,99.4 L364.7,187.0 L369.6,332.4 L371.3,380.0 L374.3,450.9"/>
<path d="M544.7,135.0 L541.5,227.0 L538.3,331.2"/>
<path d="M369.6,332.4 L457.4,329.9 L538.3,331.2 L594.5,333.7"/>
<path d="M594.5,333.7 L592.2,396.6"/>
<path d="M591.0,396.6 L588.6,450.0 L585.5,501.2 L582.4,550.0 L580.5,587.7"/>
<path d="M591.0,396.4 L690.0,403.5 L736.3,408.3 L741.2,404.2 L747.4,400.7 L750.8,402.1 L761.2,401.4 L763.3,404.2 L769.5,404.9 L776.4,409.7 L779.2,417.3 L784.0,413.2 L788.2,413.9 L792.3,412.5 L792.3,405.6 L802.7,401.4 L811.7,403.5 L822.0,401.4"/>
<path d="M585.5,501.2 L594.8,504.6 L601.0,503.9 L606.6,506.0 L612.7,518.9 L624.4,520.0 L626.8,530.4 L636.5,539.4 L642.9,545.5 L647.7,550.4 L652.5,545.5 L660.8,544.8 L667.7,549.0 L677.4,550.4 L685.7,553.1 L691.2,551.1 L699.5,551.8 L703.0,556.6 L704.4,564.9 L703.7,569.7 L733.4,588.4"/>
<path d="M718.3,541.9 L724.6,536.4 L729.4,541.2 L725.3,543.3 L723.9,550.2 L721.8,553.6 L718.3,548.8Z"/>
</g>
<g fill="none" stroke="#000" stroke-width="0.8" stroke-linejoin="round">
<path d="M78.0,271.6 L80.7,271.6 L81.0,275.8 L80.7,279.9 L82.8,284.0 L85.6,284.7 L87.0,278.5 L88.4,274.7 L89.7,270.9 L94.6,266.8 L97.7,265.0 L101.1,263.6 L104.2,261.9 L106.5,259.0 L108.5,256.0 L110.8,253.3 L113.3,251.0 L116.3,249.1 L118.0,244.7 L121.4,243.9 L124.4,242.1 L127.7,241.2 L128.2,236.0 L131.2,239.5 L134.4,239.5 L137.6,240.6 L140.8,240.3 L144.3,238.5 L147.8,236.8 L151.1,234.5 L153.9,231.6 L157.7,230.4 L161.5,229.4 L165.3,228.1 L167.6,224.4 L170.6,221.1 L174.1,221.2 L177.6,221.5 L181.1,221.1 L184.6,218.4 L188.1,217.2 L191.7,216.2 L195.2,214.9 L198.4,213.1 L202.1,212.3 L205.2,210.2 L208.0,207.7 L210.8,205.3 L212.4,202.3 L213.9,199.2 L216.1,196.5 L217.8,192.7 L218.7,188.7 L220.7,185.7 L223.0,183.0 L224.9,179.9 L227.8,178.0 L230.1,175.5 L228.4,172.0 L227.7,168.4 L227.0,164.9 L225.7,161.5 L226.9,158.0 L228.4,154.5 L231.2,152.1 L233.6,149.3 L235.4,144.0 L238.4,140.9 L241.5,137.9 L242.8,142.4 L245.0,146.6 L246.7,150.1 L249.4,152.8 L251.1,156.3 L253.2,159.2 L254.6,162.4 L254.6,158.9 L255.7,155.4 L255.5,151.9 L259.9,153.6 L259.0,147.5 L256.3,145.5 L253.8,143.3 L251.1,141.4 L252.2,137.4 L253.8,133.5 L258.1,131.8 L260.0,135.3 L263.9,136.2 L267.9,137.1 L271.7,136.7 L275.5,136.3 L279.3,136.2 L275.8,135.2 L272.3,134.4 L268.8,133.6 L270.5,130.2 L271.4,126.5 L270.3,122.9 L268.8,119.5 L267.9,113.4 L271.2,113.0 L274.4,112.0 L277.5,110.8 L281.0,114.3 L279.7,111.0 L277.5,108.2 L281.0,107.9 L284.5,107.3 L288.0,107.3 L285.1,104.5 L282.8,101.2 L282.3,98.0 L281.0,95.0 L284.5,96.8 L287.8,95.5 L290.6,93.3 L291.5,89.8 L294.3,93.6 L297.7,96.8 L298.6,93.3 L299.4,89.8 L300.1,85.9 L300.3,81.9 L304.7,86.3 L307.1,83.4 L309.9,81.0 L311.7,86.3 L313.5,83.5 L314.6,80.5 L316.0,77.5 L321.3,78.4 L324.4,79.5 L327.4,81.0 L330.4,83.0 L332.4,86.0 L335.3,88.0 L337.2,91.0 L340.3,93.0 L342.3,95.9 L344.9,97.7 L344.3,101.2 L346.6,101.2 L349.3,97.7 L353.7,98.4 L358.1,98.5 L361.6,98.9 L365.1,99.4 L366.0,103.8 L368.6,99.4 L372.1,100.3 L373.8,100.3 L379.1,96.8 L373.8,97.7 L370.9,94.0 L368.6,89.8 L370.1,86.2 L372.1,82.8 L373.5,78.6 L375.5,74.3 L377.0,69.8 L382.3,66.3 L383.1,61.9 L383.1,57.5 L384.9,54.2 L387.5,51.4 L392.8,50.5 L391.9,46.2 L398.0,47.0 L399.9,44.0 L401.5,40.9 L407.7,41.8 L411.5,41.3 L415.2,42.0 L419.0,41.8 L422.4,40.5 L426.1,39.9 L429.5,38.3 L430.4,43.5 L433.4,41.3 L435.7,38.3 L435.3,34.8 L434.8,31.3 L434.0,28.0 L432.2,25.1 L428.2,25.3 L424.3,25.1 L420.1,23.4 L416.4,20.8 L419.5,19.6 L422.5,18.1 L427.8,20.8 L430.0,17.4 L433.0,14.6 L433.8,18.1 L433.9,21.6 L440.1,21.6 L442.8,25.0 L445.3,28.6 L450.6,25.1 L451.4,30.4 L454.6,30.8 L457.9,30.6 L461.1,31.3 L464.5,34.0 L467.2,37.4 L471.1,37.8 L475.1,37.4 L478.6,36.7 L482.1,36.5 L484.3,39.5 L487.3,41.8 L490.5,40.4 L493.1,38.2 L496.1,36.5 L499.1,34.4 L502.2,32.4 L505.2,30.3 L509.5,28.3 L513.6,26.0 L515.7,23.4 L517.6,20.8 L519.6,18.2 L521.5,15.5 L519.4,18.0 L518.0,21.0 L516.4,23.8 L514.6,26.5 L510.5,28.7 L506.6,31.3 L504.2,35.4 L501.4,39.2 L504.8,38.1 L508.4,37.4 L512.5,36.6 L516.2,34.8 L518.9,40.0 L521.9,41.4 L525.0,42.7 L523.2,45.9 L521.9,49.4 L519.7,52.3 L518.5,55.8 L517.1,59.3 L513.6,61.4 L510.1,63.7 L506.7,65.1 L503.1,65.4 L503.0,68.9 L503.1,72.4 L504.9,75.1 L503.0,78.5 L501.8,82.3 L499.6,85.6 L497.4,89.0 L495.6,92.6 L493.5,96.1 L496.1,100.4 L500.0,103.5 L502.7,105.9 L505.7,107.8 L508.4,110.1 L511.0,113.1 L514.0,115.8 L517.0,117.6 L520.4,118.4 L523.4,119.9 L526.3,121.9 L530.0,123.8 L533.7,125.8 L537.7,127.1 L540.2,129.6 L542.4,132.3 L544.7,135.0 L548.6,136.8 L552.5,138.5 L556.4,139.5 L560.1,140.7 L563.9,142.0 L566.3,145.4 L568.3,149.0 L571.9,151.5 L575.3,154.3 L578.8,156.1 L582.4,157.6 L585.8,159.5 L590.2,158.5 L594.6,157.8 L598.3,155.4 L601.6,152.5 L602.4,148.4 L604.2,144.7 L606.3,141.5 L608.5,138.4 L610.3,135.0 L610.8,131.8 L611.4,128.7 L612.7,125.7 L612.8,122.4 L613.8,119.3 L615.0,117.1 L616.0,113.7 L617.6,110.5 L619.2,107.4 L620.3,104.0 L619.0,100.3 L618.4,96.4 L617.7,92.6 L617.5,89.1 L618.1,85.6 L617.6,82.1 L617.7,78.6 L619.5,75.8 L620.2,72.6 L622.0,69.8 L621.4,65.4 L621.2,61.0 L623.9,58.1 L626.4,54.9 L622.0,51.4 L624.1,48.4 L625.5,45.0 L627.3,41.8 L630.8,40.0 L631.4,36.4 L632.1,32.9 L633.5,29.5 L634.3,26.0 L634.4,22.0 L635.2,18.1 L640.4,14.6 L644.8,13.8 L647.4,19.0 L648.0,23.5 L649.2,27.8 L649.4,31.4 L650.7,34.7 L650.9,38.3 L656.2,41.8 L653.6,47.0 L655.6,50.9 L657.1,54.9 L658.8,61.0 L661.4,61.9 L660.8,66.0 L660.7,70.1 L660.6,74.2 L661.1,78.2 L662.3,82.1 L663.3,86.1 L664.4,90.1 L664.9,94.3 L669.3,96.1 L671.8,93.7 L674.6,91.7 L679.8,90.8 L681.6,96.1 L684.9,99.4 L688.6,102.2 L691.8,105.1 L694.7,108.3 L694.4,111.8 L693.8,115.3 L694.0,118.5 L694.2,121.8 L694.2,125.0 L694.9,128.5 L694.9,132.1 L695.9,135.5 L695.0,140.8 L697.1,143.5 L699.0,146.3 L700.3,149.5 L703.8,150.4 L703.6,153.6 L704.0,156.8 L704.7,160.0 L705.0,163.6 L706.4,167.0 L705.6,170.3 L704.2,173.3 L703.8,176.7 L708.2,180.2 L709.0,185.4 L707.7,188.8 L707.3,192.4 L710.1,195.3 L712.5,198.6 L716.3,201.0 L720.4,202.9 L723.3,205.0 L726.5,206.4 L730.1,205.6 L730.8,209.5 L731.8,213.4 L735.3,215.6 L738.8,217.8 L744.1,221.3 L749.3,221.3 L753.2,226.1 L756.7,224.0 L756.2,228.2 L755.3,232.3 L751.2,233.0 L752.4,236.0 L753.2,239.2 L756.5,241.4 L759.4,244.0 L760.6,247.4 L760.8,250.9 L763.6,255.1 L763.2,258.5 L762.9,262.0 L763.8,266.1 L764.3,270.3 L767.7,273.8 L769.1,270.8 L769.8,267.5 L770.8,270.9 L770.3,274.5 L771.2,277.9 L771.4,273.4 L771.2,268.9 L774.0,272.7 L777.4,275.8 L781.6,271.7 L781.9,275.2 L783.0,278.6 L785.7,277.2 L785.3,280.6 L785.7,284.1 L784.3,289.7 L784.6,293.2 L785.0,296.6 L788.5,300.7 L792.0,299.3 L793.5,302.7 L794.0,306.3 L796.6,308.6 L799.5,310.4 L803.0,315.0 L804.1,317.7 L805.4,321.0 L806.1,324.6 L809.1,327.2 L811.7,330.1 L812.5,333.6 L813.7,337.0 L816.1,339.4 L818.6,341.8 L818.9,345.7 L818.6,349.7 L819.3,353.6 L820.7,356.4 L819.9,360.0 L819.5,363.8 L818.6,367.4 L818.2,371.6 L817.2,375.7 L815.1,380.0 L816.8,384.3 L819.3,388.3 L820.0,392.4 L820.7,396.6 L822.0,401.4 L821.7,404.9 L822.2,408.3 L822.0,411.8 L820.6,415.4 L818.6,418.7 L816.8,422.1 L815.1,425.6 L813.6,428.7 L813.2,432.2 L811.7,435.3 L810.0,438.4 L808.5,441.6 L807.5,445.0 L804.8,450.5 L804.5,453.9 L804.8,457.4 L803.1,461.4 L802.0,465.7 L799.9,470.0 L798.7,473.0 L796.5,475.5 L794.3,478.9 L792.3,482.4 L791.6,488.0 L787.6,490.4 L784.0,493.5 L780.1,496.0 L775.7,497.7 L773.1,501.3 L770.2,504.6 L768.0,508.2 L765.3,511.5 L763.7,514.7 L762.2,518.0 L760.5,521.2 L758.5,524.0 L756.4,526.7 L755.4,530.8 L755.0,535.0 L753.3,538.1 L750.8,540.5 L749.4,543.5 L747.5,546.3 L745.3,548.8 L743.6,552.5 L741.2,555.7 L740.6,560.0 L739.1,564.0 L737.7,570.0 L734.1,574.6 L733.9,578.1 L734.8,581.5 L733.7,584.9 L733.4,588.4 L730.6,590.4 L727.4,591.6 L724.4,593.2 L720.9,593.2 L717.5,593.1 L714.0,592.8 L710.6,592.5 L706.5,592.6 L702.3,592.9 L698.2,593.2 L694.1,594.7 L689.9,596.0 L686.7,599.4 L683.0,602.2 L680.3,604.8 L677.4,607.1 L672.6,608.4 L671.9,611.9 L669.8,616.7 L668.4,613.7 L667.7,610.5 L663.6,611.2 L662.2,606.4 L658.1,605.0 L653.2,602.2 L647.0,600.8 L646.3,598.1 L649.8,594.6 L649.1,589.8 L645.6,588.4 L641.8,590.4 L638.0,592.5 L640.1,595.3 L635.9,597.4 L632.3,599.6 L629.0,602.2 L625.6,605.0 L622.1,607.5 L619.1,605.9 L616.4,603.8 L613.8,601.5 L610.3,598.9 L606.9,596.0 L601.9,595.8 L597.7,593.3 L592.2,592.6 L588.1,595.3 L585.3,591.2 L581.2,587.7 L577.7,586.6 L574.2,585.7 L570.1,580.8 L568.3,577.8 L565.9,575.3 L563.9,572.5 L562.5,568.2 L560.4,564.2 L561.9,560.8 L563.2,557.3 L562.1,553.2 L561.1,549.0 L558.6,545.6 L556.3,542.1 L554.2,539.3 L552.2,536.3 L549.9,533.6 L545.0,531.6 L540.2,533.6 L534.7,533.6 L538.8,530.2 L541.6,524.7 L541.9,520.2 L542.3,515.7 L540.7,512.4 L538.8,509.4 L536.7,506.0 L534.7,502.5 L532.6,506.7 L531.5,510.9 L529.8,515.0 L528.1,518.1 L526.4,521.2 L522.9,521.7 L519.4,522.6 L516.1,524.4 L512.5,525.4 L513.8,521.9 L515.3,518.4 L519.1,518.0 L522.9,517.7 L524.3,512.2 L524.4,507.7 L523.6,503.2 L526.1,499.6 L527.7,495.6 L530.0,492.4 L532.6,489.4 L531.2,483.2 L534.7,479.0 L532.6,474.9 L532.0,471.7 L530.5,468.7 L529.8,472.5 L529.8,476.3 L527.7,477.7 L525.9,481.3 L523.6,484.6 L521.5,487.7 L519.4,490.8 L513.9,493.6 L511.4,495.8 L508.2,497.0 L505.6,499.1 L503.4,502.1 L501.5,505.3 L498.7,508.1 L496.6,511.5 L498.4,515.8 L500.8,519.8 L498.2,516.9 L495.3,514.3 L492.5,517.7 L489.7,513.6 L486.4,511.3 L482.8,509.4 L487.7,509.4 L487.1,505.9 L486.3,502.5 L484.5,499.2 L483.5,495.6 L481.2,492.8 L478.7,490.1 L476.5,486.5 L475.2,482.5 L470.6,480.7 L467.7,477.9 L465.4,474.6 L467.0,471.2 L468.0,467.6 L461.9,465.8 L459.3,462.1 L457.5,457.9 L453.1,460.6 L449.4,459.7 L446.1,457.9 L441.6,457.0 L437.4,455.3 L433.8,455.3 L430.4,456.2 L427.3,454.5 L424.2,452.6 L421.6,450.1 L418.9,448.1 L415.5,447.1 L412.8,445.1 L407.6,447.9 L404.1,447.7 L400.6,448.1 L397.1,448.1 L393.6,448.1 L390.1,448.8 L386.1,449.2 L382.2,449.5 L378.3,450.9 L374.3,450.9 L371.3,452.1 L368.5,453.8 L365.6,455.3 L362.0,456.9 L358.8,459.2 L355.1,460.6 L351.5,461.5 L347.9,462.5 L344.5,464.1 L341.1,465.1 L337.5,465.4 L334.0,465.8 L330.5,465.7 L327.0,465.4 L323.5,465.8 L320.1,468.1 L316.7,470.2 L313.0,471.9 L309.7,474.5 L305.9,476.5 L302.5,478.9 L298.1,480.0 L293.8,481.6 L291.2,484.3 L288.5,486.8 L288.1,490.4 L287.5,493.9 L286.9,497.4 L283.4,502.7 L279.5,504.2 L275.5,505.3 L272.9,503.6 L268.5,504.5 L264.1,505.3 L260.7,506.6 L257.1,507.1 L253.6,504.4 L250.1,504.7 L246.6,504.5 L243.1,505.3 L239.0,506.0 L234.9,506.2 L230.8,507.1 L226.8,508.3 L222.6,508.6 L218.6,509.7 L215.4,511.7 L212.5,514.1 L211.6,519.3 L208.0,520.6 L204.6,522.2 L201.1,523.7 L197.6,526.8 L194.1,529.8 L190.6,534.2 L187.0,535.4 L183.4,536.5 L180.0,538.2 L176.5,538.7 L173.0,538.9 L169.5,538.6 L165.1,538.8 L160.8,539.5 L156.6,537.3 L152.0,536.0 L148.8,533.7 L145.6,531.4 L142.4,529.0 L138.5,527.9 L134.5,527.2 L132.9,524.3 L131.9,521.1 L131.2,516.6 L131.0,512.0 L136.3,513.2 L140.6,508.8 L140.7,504.4 L141.5,500.1 L141.1,495.7 L140.6,491.3 L140.1,486.9 L140.1,482.5 L139.1,479.1 L138.9,475.5 L138.0,472.0 L136.4,468.5 L133.7,465.7 L131.9,462.4 L130.1,459.1 L127.8,456.1 L125.8,452.8 L124.8,449.6 L123.2,446.6 L121.6,443.7 L120.5,440.5 L119.5,437.1 L118.6,433.6 L118.4,430.0 L117.5,426.8 L116.7,423.5 L113.8,420.1 L111.2,416.6 L109.5,413.3 L108.4,409.7 L106.0,407.5 L103.7,405.2 L101.5,402.7 L100.0,399.1 L98.0,395.8 L96.9,392.4 L96.6,388.9 L94.7,384.5 L91.8,380.6 L89.5,378.1 L87.3,375.5 L84.9,373.0 L88.0,371.0 L92.5,367.5 L95.3,364.7 L94.6,358.5 L93.2,355.1 L91.8,351.6 L89.7,348.6 L87.0,346.1 L84.8,343.1 L82.1,340.5 L79.4,335.2 L77.3,332.4 L75.2,329.7 L73.1,324.1 L73.5,320.4 L74.3,316.8 L74.5,313.1 L77.3,307.5 L77.3,302.0 L76.6,297.8 L75.2,293.7 L72.4,288.2 L74.5,284.0 L75.1,280.5 L75.9,277.1Z"/>
<path d="M638.3,647.9 L640.6,642.5 L642.9,642.2 L641.4,647.1 L644.5,649.4 L648.3,650.9 L652.9,655.1 L656.3,656.9 L659.8,658.6 L665.1,660.6 L668.6,660.2 L672.0,659.3 L676.6,658.8 L681.2,657.8 L685.7,655.5 L689.6,657.0 L693.4,654.4 L696.5,657.0 L696.5,661.3 L697.2,665.5 L696.4,670.0 L696.1,674.6 L695.0,678.4 L694.6,682.3 L694.9,688.4 L691.9,691.5 L689.6,696.0 L687.3,700.6 L687.3,706.7 L684.2,707.5 L681.9,702.2 L678.9,705.2 L676.6,700.6 L676.6,705.2 L675.8,709.8 L672.8,712.9 L671.2,709.8 L668.9,715.2 L663.6,713.6 L659.7,712.9 L655.9,712.1 L654.4,706.7 L652.8,703.8 L650.6,701.4 L649.2,697.2 L647.5,693.0 L646.7,689.0 L645.2,685.3 L644.5,680.7 L643.1,677.8 L642.4,674.6 L641.4,671.6 L640.0,667.8 L639.1,663.9 L638.1,659.3 L637.1,654.8 L637.8,651.4Z"/>
<path d="M380.5,32.1 L384.0,25.1 L387.5,19.9 L394.5,23.4 L405.9,19.9 L411.2,22.5 L410.3,27.8 L400.6,34.8 L391.9,31.3 L387.5,33.0Z" stroke-width="0.55"/>
<path d="M513.6,74.2 L522.4,73.3 L524.1,84.7 L512.7,82.9Z" stroke-width="0.55"/>
<path d="M514.5,111.8 L520.0,111.0 L525.9,117.1 L520.0,118.0Z" stroke-width="0.55"/>
<path d="M567.4,135.9 L570.9,132.4 L577.1,131.5 L578.8,133.6 L570.9,138.5Z" stroke-width="0.55"/>
<path d="M572.0,146.5 L574.0,144.3 L575.0,146.5Z" stroke-width="0.55"/>
<path d="M824.8,330.8 L826.9,329.4 L828.3,334.9 L824.8,342.5 L820.7,350.8 L820.0,345.3 L821.3,339.8Z" stroke-width="0.55"/>
<path d="M822.0,378.5 L823.4,378.5 L823.4,386.2 L822.2,386.8Z" stroke-width="0.55"/>
<path d="M626.4,625.7 L628.4,623.4 L630.4,624.2 L630.7,631.8 L626.9,635.6 L626.1,630.3Z" stroke-width="0.55"/>
<path d="M690.6,634.9 L693.4,632.1 L698.0,636.4 L699.8,643.3 L695.7,644.8 L701.3,647.1 L696.5,650.5 L693.1,646.3 L694.9,643.3 L693.1,637.9Z" stroke-width="0.55"/>
<path d="M507.0,536.4 L513.2,534.3 L525.7,532.3 L527.1,536.4 L531.9,535.7 L534.7,537.8 L531.9,539.2 L526.4,539.9 L518.1,541.2 L509.8,541.9Z" stroke-width="0.55"/>
<path d="M78.7,350.2 L81.5,352.0 L86.5,358.0 L88.0,364.0 L85.0,366.0 L82.0,360.0 L79.0,354.0Z" stroke-width="0.55"/>
<path d="M68.3,350.9 L70.0,351.0 L75.0,361.0 L80.0,368.0 L84.9,373.0 L83.0,374.0 L76.0,366.0 L71.0,359.0Z" stroke-width="0.55"/>
<path d="M69.5,336.0 L70.4,336.0 L70.6,345.6 L69.7,345.6Z" stroke-width="0.55"/>
<path d="M100.0,246.0 L101.5,244.8 L102.2,248.0 L100.5,249.2Z" stroke-width="0.55"/>
</g>
<path d="M345.4,100.5 L343.3,104 L345.2,110.4 L338.8,115.7 M345.2,110.4 L347.2,108.8 M373,100.2 L375.6,105.5 L380,110.8 M375.6,105.5 L377.5,104.5" fill="none" stroke="#000" stroke-width="0.7"/>
<path d="M816.6,378.5 L819.8,381.2 L821,389.5 L818.2,389.8 L816.3,384Z" fill="#fff" stroke="#000" stroke-width="0.5"/>
<path d="M505.5,40.5 L509,38.5 L512,41 L511,45 L507,46Z" fill="#fff" stroke="#000" stroke-width="0.6"/>
<ellipse cx="636.6" cy="12.2" rx="1.3" ry="0.9" fill="#b2183b" stroke="#000" stroke-width="0.5"/><ellipse cx="636.4" cy="1.6" rx="1" ry="0.8" fill="#b2183b" stroke="#000" stroke-width="0.5"/>
<g stroke="#000" stroke-width="1" stroke-linejoin="miter">
<path d="M922.5,113.1 L939.0,72.5 L955.5,113.1Z" fill="#b2183b"/>
<rect x="922.5" y="113.1" width="33.0" height="41.6" fill="#c0455a"/>
<rect x="922.5" y="154.7" width="33.0" height="41.6" fill="#cb6b79"/>
<rect x="922.5" y="196.3" width="33.0" height="41.6" fill="#d8939c"/>
<rect x="922.5" y="237.9" width="33.0" height="41.6" fill="#e4bcc1"/>
<rect x="922.5" y="279.5" width="33.0" height="41.6" fill="#efeeec"/>
<rect x="922.5" y="321.1" width="33.0" height="41.6" fill="#ffffff"/>
<rect x="922.5" y="362.70000000000005" width="33.0" height="41.6" fill="#ffffff"/>
<rect x="922.5" y="404.29999999999995" width="33.0" height="41.6" fill="#e9f0f2"/>
<rect x="922.5" y="445.9" width="33.0" height="41.6" fill="#c5dade"/>
<rect x="922.5" y="487.5" width="33.0" height="41.6" fill="#a9c9cf"/>
<rect x="922.5" y="529.1" width="33.0" height="41.6" fill="#8cbac5"/>
<rect x="922.5" y="570.7" width="33.0" height="41.6" fill="#6aaebb"/>
<path d="M922.5,612.3000000000001 L939.0,652.5000000000001 L955.5,612.3000000000001Z" fill="#449dac"/>
</g>
<g font-family="'DejaVu Sans', sans-serif" font-size="17.36px" fill="#000">
<text x="960.1" y="118.8">80</text>
<text x="960.1" y="160.3">75</text>
<text x="960.1" y="202.0">70</text>
<text x="960.1" y="243.6">65</text>
<text x="960.1" y="285.1">60</text>
<text x="960.1" y="326.8">55</text>
<text x="960.1" y="368.4">50</text>
<text x="960.1" y="409.9">45</text>
<text x="960.1" y="451.5">40</text>
<text x="960.1" y="493.1">35</text>
<text x="960.1" y="534.8">30</text>
<text x="960.1" y="576.4">25</text>
<text x="960.1" y="618.0">20</text>
<text transform="translate(1005.8,364.5) rotate(-90)" text-anchor="middle" font-size="18.41px">Chance of exceeding median min temp (%)</text>
</g>
</svg>
<!--CREST-->
<svg width="1085" height="726" viewBox="0 0 1085 726" style="position:absolute;left:0;top:0">
<g transform="translate(68,8) scale(0.10746)" fill="#000" stroke="none">
<polygon points="492.0,46.0 499.4,72.7 524.8,61.8 508.6,84.2 532.9,97.3 505.3,98.6 510.2,125.8 492.0,105.0 473.8,125.8 478.7,98.6 451.1,97.3 475.4,84.2 459.2,61.8 484.6,72.7"/>
<rect x="447" y="139" width="13" height="11" rx="3"/>
<rect x="463" y="139" width="13" height="11" rx="3"/>
<rect x="479" y="139" width="13" height="11" rx="3"/>
<rect x="495" y="139" width="13" height="11" rx="3"/>
<rect x="511" y="139" width="13" height="11" rx="3"/>
<rect x="527" y="139" width="13" height="11" rx="3"/>
<path d="M75,443 L920,443" stroke="#000" stroke-width="11" fill="none"/>
<path d="M100,447 Q55,447 55,425 Q55,405 78,408 Q92,412 86,426" stroke="#000" stroke-width="7" fill="none"/>
<path d="M895,447 Q940,447 940,425 Q940,405 917,408 Q903,412 909,426" stroke="#000" stroke-width="7" fill="none"/>
<path d="M345,100 L362,126 L384,96 L392,126 L416,148 L408,160 L388,163 L392,188 L410,212 L402,224 L384,214 L378,262 L362,318 L352,362 L348,410 L372,428 L372,442 L312,442 L306,414 L286,428 L210,438 L100,442 L180,424 L240,402 L262,366 L262,316 L286,262 L322,206 L348,160 L352,130 Z"/>
<path d="M598,142 L614,124 L636,122 L648,138 L640,160 L626,196 L628,232 L660,238 L712,236 L758,258 L786,300 L790,344 L770,338 L748,352 L724,356 L722,428 L734,440 L700,440 L708,426 L704,358 L690,356 L668,404 L650,428 L656,440 L624,440 L636,422 L660,380 L668,348 L628,318 L602,270 L598,220 L612,168 L616,146 Z"/>
<path d="M400,198 L590,198 L590,322 Q590,372 495,404 Q400,372 400,322 Z" fill="#fff" stroke="#000" stroke-width="9"/>
<path d="M400,270 L590,270 M400,332 L590,332 M463,198 L463,332 M527,198 L527,332" stroke="#000" stroke-width="6" fill="none"/>
<rect x="418" y="218" width="32" height="36" fill="#222" opacity="0.8"/>
<rect x="429.0" y="222" width="10" height="28" fill="#fff" opacity="0.75"/>
<rect x="480" y="218" width="34" height="36" fill="#222" opacity="0.8"/>
<rect x="492.0" y="222" width="10" height="28" fill="#fff" opacity="0.75"/>
<rect x="542" y="218" width="32" height="36" fill="#222" opacity="0.8"/>
<rect x="553.0" y="222" width="10" height="28" fill="#fff" opacity="0.75"/>
<rect x="418" y="286" width="32" height="32" fill="#222" opacity="0.8"/>
<rect x="429.0" y="290" width="10" height="24" fill="#fff" opacity="0.75"/>
<rect x="480" y="286" width="34" height="32" fill="#222" opacity="0.8"/>
<rect x="492.0" y="290" width="10" height="24" fill="#fff" opacity="0.75"/>
<rect x="542" y="286" width="32" height="32" fill="#222" opacity="0.8"/>
<rect x="553.0" y="290" width="10" height="24" fill="#fff" opacity="0.75"/>
<rect x="459" y="348" width="72" height="22" fill="#222" opacity="0.8"/>
<rect x="490.0" y="352" width="10" height="14" fill="#fff" opacity="0.75"/>
<path d="M258,398 Q215,320 160,205" stroke="#111" stroke-width="4" fill="none"/>
<ellipse cx="254.9" cy="370.8" rx="14.4" ry="5.6" transform="rotate(-69 254.9 370.8)" fill="#222"/>
<ellipse cx="229.0" cy="364.3" rx="14.4" ry="5.6" transform="rotate(-162 229.0 364.3)" fill="#222"/>
<ellipse cx="240.7" cy="341.1" rx="14.4" ry="5.6" transform="rotate(-59 240.7 341.1)" fill="#222"/>
<circle cx="225.8" cy="365.8" r="5" fill="none" stroke="#222" stroke-width="2.5"/>
<ellipse cx="212.4" cy="331.6" rx="14.4" ry="5.6" transform="rotate(-160 212.4 331.6)" fill="#222"/>
<ellipse cx="222.9" cy="307.5" rx="14.4" ry="5.6" transform="rotate(-62 222.9 307.5)" fill="#222"/>
<ellipse cx="194.3" cy="298.9" rx="14.4" ry="5.6" transform="rotate(-167 194.3 298.9)" fill="#222"/>
<circle cx="222.4" cy="305.2" r="5" fill="none" stroke="#222" stroke-width="2.5"/>
<ellipse cx="202.0" cy="270.6" rx="14.4" ry="5.6" transform="rotate(-75 202.0 270.6)" fill="#222"/>
<ellipse cx="175.7" cy="262.8" rx="14.4" ry="5.6" transform="rotate(-171 175.7 262.8)" fill="#222"/>
<ellipse cx="183.2" cy="232.5" rx="14.4" ry="5.6" transform="rotate(-75 183.2 232.5)" fill="#222"/>
<circle cx="175.6" cy="260.4" r="5" fill="none" stroke="#222" stroke-width="2.5"/>
<ellipse cx="156.6" cy="222.8" rx="14.4" ry="5.6" transform="rotate(-168 156.6 222.8)" fill="#222"/>
<ellipse cx="163.9" cy="192.0" rx="14.4" ry="5.6" transform="rotate(-73 163.9 192.0)" fill="#222"/>
<path d="M225,335 Q170,320 128,285" stroke="#111" stroke-width="4" fill="none"/>
<ellipse cx="198.4" cy="318.3" rx="11.9" ry="4.6" transform="rotate(-117 198.4 318.3)" fill="#222"/>
<ellipse cx="173.1" cy="325.0" rx="11.9" ry="4.6" transform="rotate(-207 173.1 325.0)" fill="#222"/>
<ellipse cx="164.4" cy="298.6" rx="11.9" ry="4.6" transform="rotate(-86 164.4 298.6)" fill="#222"/>
<circle cx="162.9" cy="322.4" r="5" fill="none" stroke="#222" stroke-width="2.5"/>
<ellipse cx="134.3" cy="299.9" rx="11.9" ry="4.6" transform="rotate(-189 134.3 299.9)" fill="#222"/>
<ellipse cx="127.3" cy="273.8" rx="11.9" ry="4.6" transform="rotate(-94 127.3 273.8)" fill="#222"/>
<path d="M245,385 Q170,390 105,362" stroke="#111" stroke-width="4" fill="none"/>
<ellipse cx="219.9" cy="375.6" rx="12.8" ry="5.0" transform="rotate(237 219.9 375.6)" fill="#222"/>
<ellipse cx="203.0" cy="396.3" rx="12.8" ry="5.0" transform="rotate(-245 203.0 396.3)" fill="#222"/>
<ellipse cx="184.6" cy="373.5" rx="12.8" ry="5.0" transform="rotate(-117 184.6 373.5)" fill="#222"/>
<circle cx="196.4" cy="396.1" r="5" fill="none" stroke="#222" stroke-width="2.5"/>
<ellipse cx="163.6" cy="389.8" rx="12.8" ry="5.0" transform="rotate(-222 163.6 389.8)" fill="#222"/>
<ellipse cx="153.3" cy="366.5" rx="12.8" ry="5.0" transform="rotate(-99 153.3 366.5)" fill="#222"/>
<ellipse cx="127.3" cy="379.0" rx="12.8" ry="5.0" transform="rotate(-205 127.3 379.0)" fill="#222"/>
<circle cx="150.3" cy="368.2" r="5" fill="none" stroke="#222" stroke-width="2.5"/>
<ellipse cx="120.3" cy="356.5" rx="12.8" ry="5.0" transform="rotate(-95 120.3 356.5)" fill="#222"/>
<ellipse cx="94.1" cy="367.1" rx="12.8" ry="5.0" transform="rotate(-205 94.1 367.1)" fill="#222"/>
<path d="M200,290 Q170,260 150,215" stroke="#111" stroke-width="4" fill="none"/>
<ellipse cx="186.5" cy="263.7" rx="11.0" ry="4.3" transform="rotate(-85 186.5 263.7)" fill="#222"/>
<ellipse cx="162.4" cy="253.9" rx="11.0" ry="4.3" transform="rotate(-167 162.4 253.9)" fill="#222"/>
<ellipse cx="164.2" cy="226.8" rx="11.0" ry="4.3" transform="rotate(-70 164.2 226.8)" fill="#222"/>
<circle cx="156.6" cy="247.5" r="5" fill="none" stroke="#222" stroke-width="2.5"/>
<ellipse cx="139.6" cy="214.5" rx="11.0" ry="4.3" transform="rotate(-177 139.6 214.5)" fill="#222"/>
<path d="M250,420 Q180,410 120,400" stroke="#111" stroke-width="4" fill="none"/>
<ellipse cx="216.7" cy="408.3" rx="10.2" ry="4.0" transform="rotate(-126 216.7 408.3)" fill="#222"/>
<ellipse cx="189.2" cy="419.2" rx="10.2" ry="4.0" transform="rotate(-228 189.2 419.2)" fill="#222"/>
<ellipse cx="165.9" cy="399.1" rx="10.2" ry="4.0" transform="rotate(-113 165.9 399.1)" fill="#222"/>
<circle cx="173.8" cy="418.0" r="5" fill="none" stroke="#222" stroke-width="2.5"/>
<ellipse cx="137.2" cy="410.4" rx="10.2" ry="4.0" transform="rotate(-222 137.2 410.4)" fill="#222"/>
<ellipse cx="116.0" cy="391.3" rx="10.2" ry="4.0" transform="rotate(-115 116.0 391.3)" fill="#222"/>
<path d="M440,468 Q280,500 85,520" stroke="#111" stroke-width="4" fill="none"/>
<ellipse cx="408.9" cy="465.4" rx="13.6" ry="5.3" transform="rotate(211 408.9 465.4)" fill="#222"/>
<ellipse cx="391.6" cy="485.9" rx="13.6" ry="5.3" transform="rotate(128 391.6 485.9)" fill="#222"/>
<ellipse cx="368.4" cy="472.1" rx="13.6" ry="5.3" transform="rotate(216 368.4 472.1)" fill="#222"/>
<circle cx="390.4" cy="488.0" r="5" fill="none" stroke="#222" stroke-width="2.5"/>
<ellipse cx="353.3" cy="495.2" rx="13.6" ry="5.3" transform="rotate(111 353.3 495.2)" fill="#222"/>
<ellipse cx="327.2" cy="478.1" rx="13.6" ry="5.3" transform="rotate(223 327.2 478.1)" fill="#222"/>
<ellipse cx="308.3" cy="501.2" rx="13.6" ry="5.3" transform="rotate(122 308.3 501.2)" fill="#222"/>
<circle cx="322.7" cy="478.1" r="5" fill="none" stroke="#222" stroke-width="2.5"/>
<ellipse cx="284.8" cy="484.2" rx="13.6" ry="5.3" transform="rotate(228 284.8 484.2)" fill="#222"/>
<ellipse cx="265.1" cy="508.2" rx="13.6" ry="5.3" transform="rotate(119 265.1 508.2)" fill="#222"/>
<ellipse cx="239.2" cy="491.9" rx="13.6" ry="5.3" transform="rotate(221 239.2 491.9)" fill="#222"/>
<circle cx="259.8" cy="509.6" r="5" fill="none" stroke="#222" stroke-width="2.5"/>
<ellipse cx="222.1" cy="515.4" rx="13.6" ry="5.3" transform="rotate(109 222.1 515.4)" fill="#222"/>
<ellipse cx="195.7" cy="496.1" rx="13.6" ry="5.3" transform="rotate(233 195.7 496.1)" fill="#222"/>
<ellipse cx="172.8" cy="519.6" rx="13.6" ry="5.3" transform="rotate(126 172.8 519.6)" fill="#222"/>
<circle cx="188.7" cy="497.6" r="5" fill="none" stroke="#222" stroke-width="2.5"/>
<ellipse cx="148.6" cy="502.3" rx="13.6" ry="5.3" transform="rotate(230 148.6 502.3)" fill="#222"/>
<ellipse cx="127.1" cy="526.1" rx="13.6" ry="5.3" transform="rotate(118 127.1 526.1)" fill="#222"/>
<ellipse cx="102.7" cy="506.5" rx="13.6" ry="5.3" transform="rotate(239 102.7 506.5)" fill="#222"/>
<circle cx="116.6" cy="529.8" r="5" fill="none" stroke="#222" stroke-width="2.5"/>
<ellipse cx="80.0" cy="531.8" rx="13.6" ry="5.3" transform="rotate(113 80.0 531.8)" fill="#222"/>
<path d="M320,492 Q270,540 225,605" stroke="#111" stroke-width="4" fill="none"/>
<ellipse cx="292.3" cy="508.0" rx="11.9" ry="4.6" transform="rotate(182 292.3 508.0)" fill="#222"/>
<ellipse cx="292.2" cy="535.9" rx="11.9" ry="4.6" transform="rotate(64 292.2 535.9)" fill="#222"/>
<ellipse cx="260.1" cy="545.5" rx="11.9" ry="4.6" transform="rotate(174 260.1 545.5)" fill="#222"/>
<circle cx="283.8" cy="542.8" r="5" fill="none" stroke="#222" stroke-width="2.5"/>
<ellipse cx="258.2" cy="574.4" rx="11.9" ry="4.6" transform="rotate(76 258.2 574.4)" fill="#222"/>
<ellipse cx="229.1" cy="582.2" rx="11.9" ry="4.6" transform="rotate(188 229.1 582.2)" fill="#222"/>
<ellipse cx="226.9" cy="616.0" rx="11.9" ry="4.6" transform="rotate(80 226.9 616.0)" fill="#222"/>
<circle cx="222.9" cy="592.6" r="5" fill="none" stroke="#222" stroke-width="2.5"/>
<path d="M215,505 Q180,530 150,565" stroke="#111" stroke-width="4" fill="none"/>
<ellipse cx="187.8" cy="515.4" rx="11.0" ry="4.3" transform="rotate(195 187.8 515.4)" fill="#222"/>
<ellipse cx="180.2" cy="542.8" rx="11.0" ry="4.3" transform="rotate(96 180.2 542.8)" fill="#222"/>
<ellipse cx="155.2" cy="545.8" rx="11.0" ry="4.3" transform="rotate(193 155.2 545.8)" fill="#222"/>
<circle cx="176.7" cy="550.8" r="5" fill="none" stroke="#222" stroke-width="2.5"/>
<ellipse cx="153.8" cy="574.7" rx="11.0" ry="4.3" transform="rotate(69 153.8 574.7)" fill="#222"/>
<path d="M390,478 Q340,520 300,565" stroke="#111" stroke-width="4" fill="none"/>
<ellipse cx="360.4" cy="492.2" rx="11.0" ry="4.3" transform="rotate(195 360.4 492.2)" fill="#222"/>
<ellipse cx="354.9" cy="521.9" rx="11.0" ry="4.3" transform="rotate(72 354.9 521.9)" fill="#222"/>
<ellipse cx="323.2" cy="528.7" rx="11.0" ry="4.3" transform="rotate(184 323.2 528.7)" fill="#222"/>
<circle cx="345.3" cy="530.3" r="5" fill="none" stroke="#222" stroke-width="2.5"/>
<ellipse cx="319.4" cy="557.1" rx="11.0" ry="4.3" transform="rotate(73 319.4 557.1)" fill="#222"/>
<ellipse cx="289.7" cy="563.4" rx="11.0" ry="4.3" transform="rotate(189 289.7 563.4)" fill="#222"/>
<path d="M260,498 Q200,480 150,480" stroke="#111" stroke-width="4" fill="none"/>
<ellipse cx="227.3" cy="481.1" rx="10.2" ry="4.0" transform="rotate(-110 227.3 481.1)" fill="#222"/>
<ellipse cx="195.6" cy="491.2" rx="10.2" ry="4.0" transform="rotate(-224 195.6 491.2)" fill="#222"/>
<ellipse cx="172.2" cy="472.2" rx="10.2" ry="4.0" transform="rotate(-111 172.2 472.2)" fill="#222"/>
<circle cx="179.5" cy="491.2" r="5" fill="none" stroke="#222" stroke-width="2.5"/>
<ellipse cx="146.3" cy="488.8" rx="10.2" ry="4.0" transform="rotate(113 146.3 488.8)" fill="#222"/>
<path d="M495,470 Q440,440 380,400" stroke="#111" stroke-width="5" fill="none"/>
<ellipse cx="471.7" cy="448.1" rx="10.2" ry="4.0" transform="rotate(-97 471.7 448.1)" fill="#222"/>
<ellipse cx="441.7" cy="449.0" rx="10.2" ry="4.0" transform="rotate(-208 441.7 449.0)" fill="#222"/>
<ellipse cx="424.5" cy="421.2" rx="10.2" ry="4.0" transform="rotate(-106 424.5 421.2)" fill="#222"/>
<circle cx="430.2" cy="440.8" r="5" fill="none" stroke="#222" stroke-width="2.5"/>
<ellipse cx="395.3" cy="420.0" rx="10.2" ry="4.0" transform="rotate(-207 395.3 420.0)" fill="#222"/>
<ellipse cx="380.4" cy="390.4" rx="10.2" ry="4.0" transform="rotate(-88 380.4 390.4)" fill="#222"/>
<path d="M495,520 Q430,470 360,470" stroke="#111" stroke-width="5" fill="none"/>
<ellipse cx="470.4" cy="492.5" rx="10.2" ry="4.0" transform="rotate(-80 470.4 492.5)" fill="#222"/>
<ellipse cx="434.8" cy="494.1" rx="10.2" ry="4.0" transform="rotate(-220 434.8 494.1)" fill="#222"/>
<ellipse cx="411.1" cy="469.3" rx="10.2" ry="4.0" transform="rotate(-115 411.1 469.3)" fill="#222"/>
<circle cx="419.8" cy="487.8" r="5" fill="none" stroke="#222" stroke-width="2.5"/>
<ellipse cx="380.8" cy="478.5" rx="10.2" ry="4.0" transform="rotate(-223 380.8 478.5)" fill="#222"/>
<ellipse cx="355.1" cy="461.7" rx="10.2" ry="4.0" transform="rotate(239 355.1 461.7)" fill="#222"/>
<path d="M732,398 Q775,320 830,205" stroke="#111" stroke-width="4" fill="none"/>
<ellipse cx="752.6" cy="378.7" rx="14.4" ry="5.6" transform="rotate(-21 752.6 378.7)" fill="#222"/>
<ellipse cx="742.2" cy="356.1" rx="14.4" ry="5.6" transform="rotate(-115 742.2 356.1)" fill="#222"/>
<ellipse cx="769.3" cy="348.6" rx="14.4" ry="5.6" transform="rotate(-17 769.3 348.6)" fill="#222"/>
<circle cx="741.7" cy="357.3" r="5" fill="none" stroke="#222" stroke-width="2.5"/>
<ellipse cx="761.1" cy="323.3" rx="14.4" ry="5.6" transform="rotate(-106 761.1 323.3)" fill="#222"/>
<ellipse cx="786.3" cy="314.5" rx="14.4" ry="5.6" transform="rotate(-21 786.3 314.5)" fill="#222"/>
<ellipse cx="774.6" cy="290.8" rx="14.4" ry="5.6" transform="rotate(-125 774.6 290.8)" fill="#222"/>
<circle cx="791.3" cy="314.4" r="5" fill="none" stroke="#222" stroke-width="2.5"/>
<ellipse cx="804.4" cy="279.2" rx="14.4" ry="5.6" transform="rotate(-20 804.4 279.2)" fill="#222"/>
<ellipse cx="796.0" cy="252.3" rx="14.4" ry="5.6" transform="rotate(-111 796.0 252.3)" fill="#222"/>
<ellipse cx="823.7" cy="242.6" rx="14.4" ry="5.6" transform="rotate(-13 823.7 242.6)" fill="#222"/>
<circle cx="795.5" cy="249.0" r="5" fill="none" stroke="#222" stroke-width="2.5"/>
<ellipse cx="811.5" cy="215.1" rx="14.4" ry="5.6" transform="rotate(-129 811.5 215.1)" fill="#222"/>
<ellipse cx="842.6" cy="199.9" rx="14.4" ry="5.6" transform="rotate(-22 842.6 199.9)" fill="#222"/>
<path d="M765,335 Q820,320 862,285" stroke="#111" stroke-width="4" fill="none"/>
<ellipse cx="795.9" cy="334.3" rx="11.9" ry="4.6" transform="rotate(33 795.9 334.3)" fill="#222"/>
<ellipse cx="808.7" cy="308.7" rx="11.9" ry="4.6" transform="rotate(-81 808.7 308.7)" fill="#222"/>
<ellipse cx="835.4" cy="316.3" rx="11.9" ry="4.6" transform="rotate(36 835.4 316.3)" fill="#222"/>
<circle cx="816.1" cy="302.5" r="5" fill="none" stroke="#222" stroke-width="2.5"/>
<ellipse cx="843.0" cy="287.1" rx="11.9" ry="4.6" transform="rotate(-98 843.0 287.1)" fill="#222"/>
<ellipse cx="872.1" cy="289.7" rx="11.9" ry="4.6" transform="rotate(25 872.1 289.7)" fill="#222"/>
<path d="M745,385 Q820,390 885,362" stroke="#111" stroke-width="4" fill="none"/>
<ellipse cx="771.5" cy="394.8" rx="12.8" ry="5.0" transform="rotate(49 771.5 394.8)" fill="#222"/>
<ellipse cx="788.8" cy="375.7" rx="12.8" ry="5.0" transform="rotate(-55 788.8 375.7)" fill="#222"/>
<ellipse cx="808.4" cy="392.5" rx="12.8" ry="5.0" transform="rotate(44 808.4 392.5)" fill="#222"/>
<circle cx="790.2" cy="374.7" r="5" fill="none" stroke="#222" stroke-width="2.5"/>
<ellipse cx="820.7" cy="370.2" rx="12.8" ry="5.0" transform="rotate(-75 820.7 370.2)" fill="#222"/>
<ellipse cx="841.8" cy="388.2" rx="12.8" ry="5.0" transform="rotate(55 841.8 388.2)" fill="#222"/>
<ellipse cx="857.7" cy="363.5" rx="12.8" ry="5.0" transform="rotate(-61 857.7 363.5)" fill="#222"/>
<circle cx="845.3" cy="385.7" r="5" fill="none" stroke="#222" stroke-width="2.5"/>
<ellipse cx="879.4" cy="373.6" rx="12.8" ry="5.0" transform="rotate(25 879.4 373.6)" fill="#222"/>
<ellipse cx="889.1" cy="350.7" rx="12.8" ry="5.0" transform="rotate(-70 889.1 350.7)" fill="#222"/>
<path d="M790,290 Q820,260 840,215" stroke="#111" stroke-width="4" fill="none"/>
<ellipse cx="814.7" cy="273.3" rx="11.0" ry="4.3" transform="rotate(-4 814.7 273.3)" fill="#222"/>
<ellipse cx="813.9" cy="246.5" rx="11.0" ry="4.3" transform="rotate(-110 813.9 246.5)" fill="#222"/>
<ellipse cx="839.7" cy="235.8" rx="11.0" ry="4.3" transform="rotate(-4 839.7 235.8)" fill="#222"/>
<circle cx="817.7" cy="237.5" r="5" fill="none" stroke="#222" stroke-width="2.5"/>
<ellipse cx="835.8" cy="205.5" rx="11.0" ry="4.3" transform="rotate(-114 835.8 205.5)" fill="#222"/>
<path d="M740,420 Q810,410 870,400" stroke="#111" stroke-width="4" fill="none"/>
<ellipse cx="775.8" cy="421.1" rx="10.2" ry="4.0" transform="rotate(32 775.8 421.1)" fill="#222"/>
<ellipse cx="799.1" cy="403.6" rx="10.2" ry="4.0" transform="rotate(-61 799.1 403.6)" fill="#222"/>
<ellipse cx="827.6" cy="414.4" rx="10.2" ry="4.0" transform="rotate(42 827.6 414.4)" fill="#222"/>
<circle cx="812.3" cy="400.8" r="5" fill="none" stroke="#222" stroke-width="2.5"/>
<ellipse cx="849.6" cy="395.3" rx="10.2" ry="4.0" transform="rotate(-65 849.6 395.3)" fill="#222"/>
<ellipse cx="875.1" cy="408.1" rx="10.2" ry="4.0" transform="rotate(58 875.1 408.1)" fill="#222"/>
<path d="M550,468 Q710,500 905,520" stroke="#111" stroke-width="4" fill="none"/>
<ellipse cx="574.3" cy="484.0" rx="13.6" ry="5.3" transform="rotate(71 574.3 484.0)" fill="#222"/>
<ellipse cx="599.7" cy="466.9" rx="13.6" ry="5.3" transform="rotate(-44 599.7 466.9)" fill="#222"/>
<ellipse cx="616.0" cy="491.4" rx="13.6" ry="5.3" transform="rotate(68 616.0 491.4)" fill="#222"/>
<circle cx="605.8" cy="466.2" r="5" fill="none" stroke="#222" stroke-width="2.5"/>
<ellipse cx="640.5" cy="473.5" rx="13.6" ry="5.3" transform="rotate(-50 640.5 473.5)" fill="#222"/>
<ellipse cx="661.5" cy="496.8" rx="13.6" ry="5.3" transform="rotate(51 661.5 496.8)" fill="#222"/>
<ellipse cx="681.9" cy="479.6" rx="13.6" ry="5.3" transform="rotate(-57 681.9 479.6)" fill="#222"/>
<circle cx="667.0" cy="502.4" r="5" fill="none" stroke="#222" stroke-width="2.5"/>
<ellipse cx="700.8" cy="505.8" rx="13.6" ry="5.3" transform="rotate(71 700.8 505.8)" fill="#222"/>
<ellipse cx="725.8" cy="486.3" rx="13.6" ry="5.3" transform="rotate(-57 725.8 486.3)" fill="#222"/>
<ellipse cx="745.2" cy="512.3" rx="13.6" ry="5.3" transform="rotate(71 745.2 512.3)" fill="#222"/>
<circle cx="736.4" cy="486.6" r="5" fill="none" stroke="#222" stroke-width="2.5"/>
<ellipse cx="772.9" cy="494.5" rx="13.6" ry="5.3" transform="rotate(-44 772.9 494.5)" fill="#222"/>
<ellipse cx="793.2" cy="517.3" rx="13.6" ry="5.3" transform="rotate(59 793.2 517.3)" fill="#222"/>
<ellipse cx="820.0" cy="501.7" rx="13.6" ry="5.3" transform="rotate(-36 820.0 501.7)" fill="#222"/>
<circle cx="798.0" cy="517.7" r="5" fill="none" stroke="#222" stroke-width="2.5"/>
<ellipse cx="838.5" cy="523.7" rx="13.6" ry="5.3" transform="rotate(65 838.5 523.7)" fill="#222"/>
<ellipse cx="867.2" cy="507.4" rx="13.6" ry="5.3" transform="rotate(-35 867.2 507.4)" fill="#222"/>
<ellipse cx="889.3" cy="527.0" rx="13.6" ry="5.3" transform="rotate(48 889.3 527.0)" fill="#222"/>
<circle cx="871.2" cy="506.7" r="5" fill="none" stroke="#222" stroke-width="2.5"/>
<ellipse cx="914.8" cy="511.7" rx="13.6" ry="5.3" transform="rotate(-40 914.8 511.7)" fill="#222"/>
<path d="M670,492 Q720,540 765,605" stroke="#111" stroke-width="4" fill="none"/>
<ellipse cx="686.4" cy="519.7" rx="11.9" ry="4.6" transform="rotate(91 686.4 519.7)" fill="#222"/>
<ellipse cx="714.0" cy="525.5" rx="11.9" ry="4.6" transform="rotate(-2 714.0 525.5)" fill="#222"/>
<ellipse cx="718.4" cy="555.4" rx="11.9" ry="4.6" transform="rotate(92 718.4 555.4)" fill="#222"/>
<circle cx="719.1" cy="531.7" r="5" fill="none" stroke="#222" stroke-width="2.5"/>
<ellipse cx="745.4" cy="565.8" rx="11.9" ry="4.6" transform="rotate(12 745.4 565.8)" fill="#222"/>
<ellipse cx="748.3" cy="594.9" rx="11.9" ry="4.6" transform="rotate(98 748.3 594.9)" fill="#222"/>
<ellipse cx="775.9" cy="607.4" rx="11.9" ry="4.6" transform="rotate(12 775.9 607.4)" fill="#222"/>
<circle cx="752.7" cy="602.3" r="5" fill="none" stroke="#222" stroke-width="2.5"/>
<path d="M775,505 Q810,530 840,565" stroke="#111" stroke-width="4" fill="none"/>
<ellipse cx="792.2" cy="528.5" rx="11.0" ry="4.3" transform="rotate(90 792.2 528.5)" fill="#222"/>
<ellipse cx="819.1" cy="532.8" rx="11.0" ry="4.3" transform="rotate(2 819.1 532.8)" fill="#222"/>
<ellipse cx="820.9" cy="557.8" rx="11.0" ry="4.3" transform="rotate(111 820.9 557.8)" fill="#222"/>
<circle cx="828.9" cy="537.2" r="5" fill="none" stroke="#222" stroke-width="2.5"/>
<ellipse cx="850.3" cy="563.5" rx="11.0" ry="4.3" transform="rotate(-8 850.3 563.5)" fill="#222"/>
<path d="M600,478 Q650,520 690,565" stroke="#111" stroke-width="4" fill="none"/>
<ellipse cx="620.3" cy="505.3" rx="11.0" ry="4.3" transform="rotate(86 620.3 505.3)" fill="#222"/>
<ellipse cx="648.8" cy="511.3" rx="11.0" ry="4.3" transform="rotate(-4 648.8 511.3)" fill="#222"/>
<ellipse cx="655.5" cy="539.8" rx="11.0" ry="4.3" transform="rotate(95 655.5 539.8)" fill="#222"/>
<circle cx="657.4" cy="517.8" r="5" fill="none" stroke="#222" stroke-width="2.5"/>
<ellipse cx="684.0" cy="546.4" rx="11.0" ry="4.3" transform="rotate(-4 684.0 546.4)" fill="#222"/>
<ellipse cx="689.6" cy="575.4" rx="11.0" ry="4.3" transform="rotate(92 689.6 575.4)" fill="#222"/>
<path d="M730,498 Q790,480 840,480" stroke="#111" stroke-width="4" fill="none"/>
<ellipse cx="765.4" cy="497.6" rx="10.2" ry="4.0" transform="rotate(51 765.4 497.6)" fill="#222"/>
<ellipse cx="789.5" cy="475.1" rx="10.2" ry="4.0" transform="rotate(-78 789.5 475.1)" fill="#222"/>
<ellipse cx="820.7" cy="488.3" rx="10.2" ry="4.0" transform="rotate(49 820.7 488.3)" fill="#222"/>
<circle cx="807.2" cy="473.0" r="5" fill="none" stroke="#222" stroke-width="2.5"/>
<ellipse cx="845.6" cy="472.2" rx="10.2" ry="4.0" transform="rotate(-54 845.6 472.2)" fill="#222"/>
<path d="M495,470 Q550,440 610,400" stroke="#111" stroke-width="5" fill="none"/>
<ellipse cx="526.6" cy="459.7" rx="10.2" ry="4.0" transform="rotate(13 526.6 459.7)" fill="#222"/>
<ellipse cx="542.5" cy="435.2" rx="10.2" ry="4.0" transform="rotate(-74 542.5 435.2)" fill="#222"/>
<ellipse cx="571.9" cy="433.4" rx="10.2" ry="4.0" transform="rotate(18 571.9 433.4)" fill="#222"/>
<circle cx="552.5" cy="427.0" r="5" fill="none" stroke="#222" stroke-width="2.5"/>
<ellipse cx="587.8" cy="406.1" rx="10.2" ry="4.0" transform="rotate(-80 587.8 406.1)" fill="#222"/>
<ellipse cx="618.3" cy="404.8" rx="10.2" ry="4.0" transform="rotate(30 618.3 404.8)" fill="#222"/>
<path d="M495,520 Q560,470 630,470" stroke="#111" stroke-width="5" fill="none"/>
<ellipse cx="530.5" cy="504.2" rx="10.2" ry="4.0" transform="rotate(14 530.5 504.2)" fill="#222"/>
<ellipse cx="551.9" cy="479.3" rx="10.2" ry="4.0" transform="rotate(-65 551.9 479.3)" fill="#222"/>
<ellipse cx="580.8" cy="485.5" rx="10.2" ry="4.0" transform="rotate(51 580.8 485.5)" fill="#222"/>
<circle cx="568.0" cy="469.6" r="5" fill="none" stroke="#222" stroke-width="2.5"/>
<ellipse cx="606.5" cy="463.4" rx="10.2" ry="4.0" transform="rotate(-63 606.5 463.4)" fill="#222"/>
<ellipse cx="636.9" cy="476.7" rx="10.2" ry="4.0" transform="rotate(44 636.9 476.7)" fill="#222"/>
<path d="M475,540 Q393,530 403,500 Q423,470 445,492 Q451,512 429,512" stroke="#000" stroke-width="6" fill="none"/>
<path d="M515,540 Q597,530 587,500 Q567,470 545,492 Q539,512 561,512" stroke="#000" stroke-width="6" fill="none"/>
<path d="M495,400 L495,560" stroke="#000" stroke-width="7"/>
<path d="M322,578 Q495,560 672,578 L676,612 Q495,596 326,612 Z" fill="#fff" stroke="#000" stroke-width="6"/>
<circle cx="328" cy="556" r="17" fill="#fff" stroke="#000" stroke-width="7"/><circle cx="664" cy="552" r="17" fill="#fff" stroke="#000" stroke-width="7"/>
<text x="497" y="604" font-family="'Liberation Serif', serif" font-weight="bold" font-size="34" text-anchor="middle" letter-spacing="4" fill="#000">AUSTRALIA</text>
<path d="M385,664 L600,690 M395,692 L590,660" stroke="#000" stroke-width="7" fill="none"/>
<path d="M450,612 Q440,650 462,682 L495,640 L530,684 Q552,650 540,612 Q495,628 450,612Z" fill="#000"/>
<circle cx="478" cy="640" r="8" fill="#fff"/><circle cx="514" cy="640" r="8" fill="#fff"/>
</g>
<g font-family="'Liberation Serif', serif" font-weight="bold" fill="#000">
<text id="ag" x="29.8" y="103.8" font-size="18.5px" letter-spacing="-0.27">Australian Government</text>
<rect x="29.6" y="112.9" width="183" height="1" fill="#000"/>
<text id="bm" x="40.6" y="133.1" font-size="16.4px" letter-spacing="0">Bureau of Meteorology</text>
</g>
<g font-family="'DejaVu Sans', sans-serif" fill="#000">
<text id="t1" x="303.8" y="594.9" font-size="20.95px" text-anchor="middle">Chance of exceeding the median Min Temp</text>
<text id="t2" x="303.75" y="617.9" font-size="20.83px" text-anchor="middle">October to December 2017</text>
<text id="t3" x="303.6" y="639.7" font-size="13.89px" text-anchor="middle">Product of the Bureau of Meteorology</text>
<text id="f1" x="11.2" y="700.7" font-size="13.84px">http://www.bom.gov.au/climate</text>
<text id="f2" x="10.9" y="719.7" font-size="13.84px">© Commonwealth of Australia 2017, Australian Bureau of Meteorology</text>
<text id="r1" x="1074.8" y="683.9" font-size="13.84px" text-anchor="end">Issued: 28/09/2017</text>
<text id="r2" x="1074.8" y="701.8" font-size="13.84px" text-anchor="end">Model Run: 24/09/2017</text>
<text id="r3" x="1074.9" y="719.8" font-size="13.84px" text-anchor="end">Base Period: 1981-2010</text>
</g>
</svg>
</body></html>
